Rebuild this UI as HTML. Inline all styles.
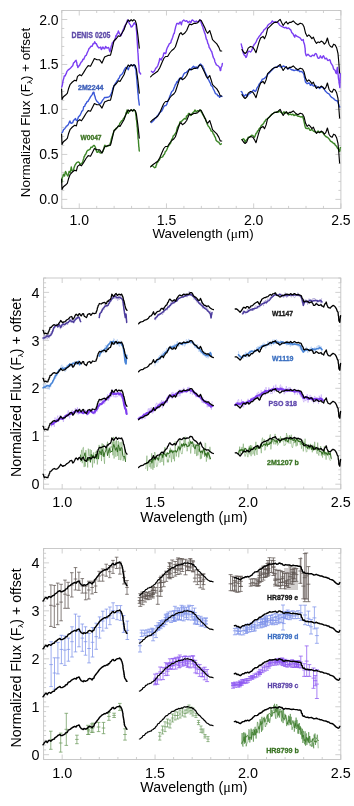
<!DOCTYPE html><html><head><meta charset="utf-8"><style>html,body{margin:0;padding:0;background:#fff;width:354px;height:806px;overflow:hidden}svg{display:block;will-change:transform}</style></head><body>
<svg width="354" height="806" viewBox="0 0 354 806" font-family='"Liberation Sans", sans-serif'>
<path d="M61.80 208.4v-2.5M61.80 10.5v2.5M79.24 208.4v-5M79.24 10.5v5M96.69 208.4v-2.5M96.69 10.5v2.5M114.13 208.4v-2.5M114.13 10.5v2.5M131.57 208.4v-2.5M131.57 10.5v2.5M149.02 208.4v-2.5M149.02 10.5v2.5M166.46 208.4v-5M166.46 10.5v5M183.91 208.4v-2.5M183.91 10.5v2.5M201.35 208.4v-2.5M201.35 10.5v2.5M218.79 208.4v-2.5M218.79 10.5v2.5M236.24 208.4v-2.5M236.24 10.5v2.5M253.68 208.4v-5M253.68 10.5v5M271.12 208.4v-2.5M271.12 10.5v2.5M288.57 208.4v-2.5M288.57 10.5v2.5M306.01 208.4v-2.5M306.01 10.5v2.5M323.46 208.4v-2.5M323.46 10.5v2.5M340.90 208.4v-5M340.90 10.5v5M61.8 199.40h5.5M340.9 199.40h-5.5M61.8 190.41h2.5M340.9 190.41h-2.5M61.8 181.41h2.5M340.9 181.41h-2.5M61.8 172.42h2.5M340.9 172.42h-2.5M61.8 163.42h2.5M340.9 163.42h-2.5M61.8 154.43h5.5M340.9 154.43h-5.5M61.8 145.43h2.5M340.9 145.43h-2.5M61.8 136.44h2.5M340.9 136.44h-2.5M61.8 127.44h2.5M340.9 127.44h-2.5M61.8 118.45h2.5M340.9 118.45h-2.5M61.8 109.45h5.5M340.9 109.45h-5.5M61.8 100.45h2.5M340.9 100.45h-2.5M61.8 91.46h2.5M340.9 91.46h-2.5M61.8 82.46h2.5M340.9 82.46h-2.5M61.8 73.47h2.5M340.9 73.47h-2.5M61.8 64.47h5.5M340.9 64.47h-5.5M61.8 55.48h2.5M340.9 55.48h-2.5M61.8 46.48h2.5M340.9 46.48h-2.5M61.8 37.49h2.5M340.9 37.49h-2.5M61.8 28.49h2.5M340.9 28.49h-2.5M61.8 19.50h5.5M340.9 19.50h-5.5M61.8 10.50h2.5M340.9 10.50h-2.5" stroke="#c4c4c4" stroke-width="0.8" fill="none"/>
<rect x="61.8" y="10.5" width="279.10" height="197.90" fill="none" stroke="#c4c4c4" stroke-width="0.9"/>
<text x="58.60" y="204.42" font-size="14.0" text-anchor="end" fill="#000">0.0</text>
<text x="58.60" y="159.44" font-size="14.0" text-anchor="end" fill="#000">0.5</text>
<text x="58.60" y="114.46" font-size="14.0" text-anchor="end" fill="#000">1.0</text>
<text x="58.60" y="69.48" font-size="14.0" text-anchor="end" fill="#000">1.5</text>
<text x="58.60" y="24.51" font-size="14.0" text-anchor="end" fill="#000">2.0</text>
<text x="79.24" y="225.30" font-size="14.0" text-anchor="middle" fill="#000">1.0</text>
<text x="166.46" y="225.30" font-size="14.0" text-anchor="middle" fill="#000">1.5</text>
<text x="253.68" y="225.30" font-size="14.0" text-anchor="middle" fill="#000">2.0</text>
<text x="340.90" y="225.30" font-size="14.0" text-anchor="middle" fill="#000">2.5</text>
<text x="203.05" y="238.40" font-size="13.4" text-anchor="middle" fill="#000">Wavelength (<tspan font-family="Liberation Serif">&#956;</tspan>m)</text>
<text transform="translate(29.9,112.50) rotate(-90)" font-size="13.4" text-anchor="middle" fill="#000">Normalized Flux (F<tspan font-size="8" dy="2.5">&#955;</tspan><tspan dy="-2.5">) + offset</tspan></text>
<path d="M43.60 489.0v-2.5M43.60 278.0v2.5M62.17 489.0v-5M62.17 278.0v5M80.75 489.0v-2.5M80.75 278.0v2.5M99.32 489.0v-2.5M99.32 278.0v2.5M117.90 489.0v-2.5M117.90 278.0v2.5M136.47 489.0v-2.5M136.47 278.0v2.5M155.05 489.0v-5M155.05 278.0v5M173.62 489.0v-2.5M173.62 278.0v2.5M192.20 489.0v-2.5M192.20 278.0v2.5M210.77 489.0v-2.5M210.77 278.0v2.5M229.35 489.0v-2.5M229.35 278.0v2.5M247.92 489.0v-5M247.92 278.0v5M266.50 489.0v-2.5M266.50 278.0v2.5M285.08 489.0v-2.5M285.08 278.0v2.5M303.65 489.0v-2.5M303.65 278.0v2.5M322.23 489.0v-2.5M322.23 278.0v2.5M340.80 489.0v-5M340.80 278.0v5M43.6 484.20h5.5M340.8 484.20h-5.5M43.6 479.41h2.5M340.8 479.41h-2.5M43.6 474.61h2.5M340.8 474.61h-2.5M43.6 469.82h2.5M340.8 469.82h-2.5M43.6 465.02h2.5M340.8 465.02h-2.5M43.6 460.23h2.5M340.8 460.23h-2.5M43.6 455.43h2.5M340.8 455.43h-2.5M43.6 450.64h2.5M340.8 450.64h-2.5M43.6 445.84h2.5M340.8 445.84h-2.5M43.6 441.05h2.5M340.8 441.05h-2.5M43.6 436.25h5.5M340.8 436.25h-5.5M43.6 431.45h2.5M340.8 431.45h-2.5M43.6 426.66h2.5M340.8 426.66h-2.5M43.6 421.86h2.5M340.8 421.86h-2.5M43.6 417.07h2.5M340.8 417.07h-2.5M43.6 412.27h2.5M340.8 412.27h-2.5M43.6 407.48h2.5M340.8 407.48h-2.5M43.6 402.68h2.5M340.8 402.68h-2.5M43.6 397.89h2.5M340.8 397.89h-2.5M43.6 393.09h2.5M340.8 393.09h-2.5M43.6 388.30h5.5M340.8 388.30h-5.5M43.6 383.50h2.5M340.8 383.50h-2.5M43.6 378.70h2.5M340.8 378.70h-2.5M43.6 373.91h2.5M340.8 373.91h-2.5M43.6 369.11h2.5M340.8 369.11h-2.5M43.6 364.32h2.5M340.8 364.32h-2.5M43.6 359.52h2.5M340.8 359.52h-2.5M43.6 354.73h2.5M340.8 354.73h-2.5M43.6 349.93h2.5M340.8 349.93h-2.5M43.6 345.14h2.5M340.8 345.14h-2.5M43.6 340.34h5.5M340.8 340.34h-5.5M43.6 335.55h2.5M340.8 335.55h-2.5M43.6 330.75h2.5M340.8 330.75h-2.5M43.6 325.95h2.5M340.8 325.95h-2.5M43.6 321.16h2.5M340.8 321.16h-2.5M43.6 316.36h2.5M340.8 316.36h-2.5M43.6 311.57h2.5M340.8 311.57h-2.5M43.6 306.77h2.5M340.8 306.77h-2.5M43.6 301.98h2.5M340.8 301.98h-2.5M43.6 297.18h2.5M340.8 297.18h-2.5M43.6 292.39h5.5M340.8 292.39h-5.5M43.6 287.59h2.5M340.8 287.59h-2.5M43.6 282.80h2.5M340.8 282.80h-2.5M43.6 278.00h2.5M340.8 278.00h-2.5" stroke="#c4c4c4" stroke-width="0.8" fill="none"/>
<rect x="43.6" y="278.0" width="297.20" height="211.00" fill="none" stroke="#c4c4c4" stroke-width="0.9"/>
<text x="39.60" y="489.36" font-size="14.4" text-anchor="end" fill="#000">0</text>
<text x="39.60" y="441.41" font-size="14.4" text-anchor="end" fill="#000">1</text>
<text x="39.60" y="393.45" font-size="14.4" text-anchor="end" fill="#000">2</text>
<text x="39.60" y="345.50" font-size="14.4" text-anchor="end" fill="#000">3</text>
<text x="39.60" y="297.54" font-size="14.4" text-anchor="end" fill="#000">4</text>
<text x="62.17" y="507.00" font-size="14.4" text-anchor="middle" fill="#000">1.0</text>
<text x="155.05" y="507.00" font-size="14.4" text-anchor="middle" fill="#000">1.5</text>
<text x="247.92" y="507.00" font-size="14.4" text-anchor="middle" fill="#000">2.0</text>
<text x="340.80" y="507.00" font-size="14.4" text-anchor="middle" fill="#000">2.5</text>
<text x="193.90" y="521.80" font-size="14.2" text-anchor="middle" fill="#000">Wavelength (<tspan font-family="Liberation Serif">&#956;</tspan>m)</text>
<text transform="translate(20.9,387.40) rotate(-90)" font-size="14.2" text-anchor="middle" fill="#000">Normalized Flux (F<tspan font-size="8" dy="2.5">&#955;</tspan><tspan dy="-2.5">) + offset</tspan></text>
<path d="M43.60 759.5v-2.5M43.60 548.5v2.5M62.17 759.5v-5M62.17 548.5v5M80.75 759.5v-2.5M80.75 548.5v2.5M99.32 759.5v-2.5M99.32 548.5v2.5M117.90 759.5v-2.5M117.90 548.5v2.5M136.47 759.5v-2.5M136.47 548.5v2.5M155.05 759.5v-5M155.05 548.5v5M173.62 759.5v-2.5M173.62 548.5v2.5M192.20 759.5v-2.5M192.20 548.5v2.5M210.77 759.5v-2.5M210.77 548.5v2.5M229.35 759.5v-2.5M229.35 548.5v2.5M247.92 759.5v-5M247.92 548.5v5M266.50 759.5v-2.5M266.50 548.5v2.5M285.08 759.5v-2.5M285.08 548.5v2.5M303.65 759.5v-2.5M303.65 548.5v2.5M322.23 759.5v-2.5M322.23 548.5v2.5M340.80 759.5v-5M340.80 548.5v5M43.6 754.70h5.5M340.8 754.70h-5.5M43.6 749.91h2.5M340.8 749.91h-2.5M43.6 745.11h2.5M340.8 745.11h-2.5M43.6 740.32h2.5M340.8 740.32h-2.5M43.6 735.52h2.5M340.8 735.52h-2.5M43.6 730.73h2.5M340.8 730.73h-2.5M43.6 725.93h2.5M340.8 725.93h-2.5M43.6 721.14h2.5M340.8 721.14h-2.5M43.6 716.34h2.5M340.8 716.34h-2.5M43.6 711.55h2.5M340.8 711.55h-2.5M43.6 706.75h5.5M340.8 706.75h-5.5M43.6 701.95h2.5M340.8 701.95h-2.5M43.6 697.16h2.5M340.8 697.16h-2.5M43.6 692.36h2.5M340.8 692.36h-2.5M43.6 687.57h2.5M340.8 687.57h-2.5M43.6 682.77h2.5M340.8 682.77h-2.5M43.6 677.98h2.5M340.8 677.98h-2.5M43.6 673.18h2.5M340.8 673.18h-2.5M43.6 668.39h2.5M340.8 668.39h-2.5M43.6 663.59h2.5M340.8 663.59h-2.5M43.6 658.80h5.5M340.8 658.80h-5.5M43.6 654.00h2.5M340.8 654.00h-2.5M43.6 649.20h2.5M340.8 649.20h-2.5M43.6 644.41h2.5M340.8 644.41h-2.5M43.6 639.61h2.5M340.8 639.61h-2.5M43.6 634.82h2.5M340.8 634.82h-2.5M43.6 630.02h2.5M340.8 630.02h-2.5M43.6 625.23h2.5M340.8 625.23h-2.5M43.6 620.43h2.5M340.8 620.43h-2.5M43.6 615.64h2.5M340.8 615.64h-2.5M43.6 610.84h5.5M340.8 610.84h-5.5M43.6 606.05h2.5M340.8 606.05h-2.5M43.6 601.25h2.5M340.8 601.25h-2.5M43.6 596.45h2.5M340.8 596.45h-2.5M43.6 591.66h2.5M340.8 591.66h-2.5M43.6 586.86h2.5M340.8 586.86h-2.5M43.6 582.07h2.5M340.8 582.07h-2.5M43.6 577.27h2.5M340.8 577.27h-2.5M43.6 572.48h2.5M340.8 572.48h-2.5M43.6 567.68h2.5M340.8 567.68h-2.5M43.6 562.89h5.5M340.8 562.89h-5.5M43.6 558.09h2.5M340.8 558.09h-2.5M43.6 553.30h2.5M340.8 553.30h-2.5M43.6 548.50h2.5M340.8 548.50h-2.5" stroke="#c4c4c4" stroke-width="0.8" fill="none"/>
<rect x="43.6" y="548.5" width="297.20" height="211.00" fill="none" stroke="#c4c4c4" stroke-width="0.9"/>
<text x="39.60" y="759.86" font-size="14.4" text-anchor="end" fill="#000">0</text>
<text x="39.60" y="711.91" font-size="14.4" text-anchor="end" fill="#000">1</text>
<text x="39.60" y="663.95" font-size="14.4" text-anchor="end" fill="#000">2</text>
<text x="39.60" y="616.00" font-size="14.4" text-anchor="end" fill="#000">3</text>
<text x="39.60" y="568.04" font-size="14.4" text-anchor="end" fill="#000">4</text>
<text x="62.17" y="777.50" font-size="14.4" text-anchor="middle" fill="#000">1.0</text>
<text x="155.05" y="777.50" font-size="14.4" text-anchor="middle" fill="#000">1.5</text>
<text x="247.92" y="777.50" font-size="14.4" text-anchor="middle" fill="#000">2.0</text>
<text x="340.80" y="777.50" font-size="14.4" text-anchor="middle" fill="#000">2.5</text>
<text x="193.90" y="792.30" font-size="14.2" text-anchor="middle" fill="#000">Wavelength (<tspan font-family="Liberation Serif">&#956;</tspan>m)</text>
<text transform="translate(20.9,657.90) rotate(-90)" font-size="14.2" text-anchor="middle" fill="#000">Normalized Flux (F<tspan font-size="8" dy="2.5">&#955;</tspan><tspan dy="-2.5">) + offset</tspan></text>
<polyline points="61.7,87.1 62.0,86.2 62.4,85.0 62.7,82.7 63.1,80.5 63.4,79.5 63.8,78.3 64.2,76.0 65.1,76.1 65.7,74.4 66.2,73.8 66.8,71.7 68.0,70.1 69.3,69.2 70.6,68.0 71.9,66.6 72.7,65.8 73.6,62.8 74.4,62.4 75.2,61.0 76.1,60.3 76.4,61.5 76.8,62.8 77.1,65.5 77.5,65.2 77.8,67.5 78.7,66.3 79.5,65.4 80.3,63.7 81.2,62.1 82.0,61.5 82.9,59.3 83.7,59.5 84.6,57.3 85.4,55.6 86.3,55.3 87.1,53.0 87.8,51.5 88.4,50.2 89.0,48.6 89.7,48.0 91.0,46.3 92.2,46.3 93.0,43.8 93.9,43.8 94.7,41.7 95.6,43.5 96.4,43.7 97.3,46.0 98.1,47.0 99.0,48.0 100.7,47.1 101.1,49.1 101.4,49.5 102.1,48.4 102.8,47.0 103.5,47.9 104.2,48.8 104.9,48.5 105.6,46.4 106.3,47.4 107.1,48.1 108.5,47.5 109.0,48.3 109.4,50.4 109.9,51.7 110.2,51.0 110.6,49.4 111.0,47.5 111.3,46.0 111.8,45.3 112.2,43.2 112.7,42.5 114.1,41.1 114.6,40.3 115.0,38.9 115.5,37.5 116.0,35.5 116.5,36.1 117.0,34.0 117.7,33.1 118.4,30.9 119.1,33.0 119.8,34.0 121.2,35.4 121.7,33.5 122.1,33.2 122.6,31.2 123.3,29.5 124.0,28.4 124.5,26.3 124.9,26.8 125.4,24.8 126.1,23.8 126.8,22.0 127.5,19.9 128.2,20.8 129.0,22.7 129.7,24.1 130.4,24.9 131.1,27.0 132.1,26.7 133.2,24.8 133.9,23.4 134.6,22.7 135.3,24.4 136.0,24.8 136.1,26.1 136.2,27.9 136.3,28.8 136.4,29.8 136.6,31.3 136.7,33.1 136.8,35.0 136.9,35.9 137.0,38.2 137.1,39.7 137.2,40.8 137.3,42.5 137.4,44.3 137.5,45.7 137.6,47.6 137.7,49.4 137.8,50.9 137.9,52.4 138.0,52.9 138.1,54.7 138.2,56.1 138.3,58.5 138.4,60.0 138.5,61.5 138.6,62.7 138.7,64.3 138.9,65.3 139.0,67.2 139.1,69.2 139.2,71.2 139.3,72.0 140.0,73.0 140.7,74.0" fill="none" stroke="#7b3ff2" stroke-width="1.4" stroke-linejoin="round" stroke-linecap="round"/>
<polyline points="151.4,71.2 152.8,72.6 154.2,71.2 154.9,70.1 155.6,68.4 157.0,66.9 157.7,65.8 158.4,64.1 158.8,62.2 159.1,61.9 159.5,59.6 159.8,58.5 161.2,59.9 161.9,58.2 162.7,57.1 163.2,56.1 163.6,53.9 164.1,52.8 165.5,53.5 166.0,52.8 166.4,50.3 166.9,48.8 167.6,47.1 168.3,46.0 169.4,43.6 170.4,43.2 170.9,42.5 171.3,40.3 171.8,39.7 172.3,38.2 172.7,37.2 173.2,35.4 173.7,33.9 174.2,33.5 174.7,31.2 175.0,29.6 175.4,28.1 175.8,26.1 176.1,25.5 176.8,23.5 177.5,23.4 178.9,24.1 179.6,22.3 180.3,22.0 180.9,23.5 181.4,24.8 181.9,22.3 182.4,21.3 183.8,19.9 185.3,21.3 186.7,20.6 187.4,21.6 188.1,22.7 189.5,21.3 190.9,22.7 191.6,20.6 192.3,19.9 193.7,21.0 195.0,22.0 196.3,21.0 197.7,22.0 198.4,22.0 199.1,21.5 199.8,19.9 200.5,20.4 201.2,22.7 201.7,24.4 202.2,25.9 202.7,26.2 203.2,28.8 203.6,29.5 204.1,31.2 204.6,33.2 205.0,33.3 205.5,35.4 206.0,37.8 206.4,39.2 206.9,39.7 207.4,41.5 207.8,43.4 208.3,43.9 208.8,45.5 209.2,47.6 209.7,48.1 210.4,49.3 211.1,51.0 211.6,51.3 212.0,52.7 212.5,54.5 213.0,56.6 213.5,57.9 214.0,58.5 214.5,59.7 214.9,61.7 215.4,62.7 216.4,64.9 217.5,65.5 218.6,66.3 219.6,67.7 219.9,68.6 220.3,70.5 220.7,70.3 221.0,67.8 221.4,66.9 221.9,66.0 222.4,63.4" fill="none" stroke="#7b3ff2" stroke-width="1.4" stroke-linejoin="round" stroke-linecap="round"/>
<polyline points="241.2,43.9 241.6,45.6 242.0,47.3 242.3,47.9 242.5,49.6 242.8,51.2 243.3,53.1 243.8,54.2 244.3,55.1 245.1,55.6 245.9,57.4 246.4,56.9 246.9,55.5 247.4,53.5 248.2,51.4 249.0,51.2 250.5,52.0 251.3,51.1 252.1,49.6 252.6,48.1 253.1,46.2 253.6,45.7 254.4,44.2 255.2,43.4 256.0,42.1 256.8,40.3 257.6,38.4 258.3,38.0 259.1,36.4 259.9,35.6 260.6,34.8 261.4,33.3 263.0,31.8 263.8,30.1 264.5,29.4 266.1,27.9 266.9,27.4 267.6,25.5 269.2,24.0 270.7,23.2 271.5,22.2 272.3,20.9 273.8,22.4 275.4,21.7 277.0,22.4 278.5,23.2 279.3,24.6 280.1,25.5 281.6,26.3 283.2,27.1 284.7,27.9 285.9,27.3 287.0,28.6 288.6,27.9 290.1,29.4 290.9,30.1 291.7,32.5 293.2,34.1 294.0,35.9 294.8,37.2 295.1,35.4 295.5,34.9 297.1,36.4 298.7,37.2 300.2,38.0 301.0,39.2 301.8,40.3 303.3,39.5 303.6,41.9 303.9,42.8 304.3,44.1 304.6,44.9 304.9,47.3 305.1,48.1 305.2,49.9 305.4,52.9 305.6,53.5 306.0,55.2 306.4,55.8 308.0,54.3 309.5,55.8 311.1,56.6 312.6,55.1 314.2,55.8 314.9,54.0 315.7,53.5 316.5,54.1 317.3,56.6 318.1,58.3 318.9,58.2 319.6,57.9 320.4,55.8 321.2,57.1 322.0,58.2 322.8,56.5 323.5,55.8 324.3,57.4 325.1,58.9 326.6,58.2 327.4,60.1 328.2,60.5 329.7,59.7 330.2,60.5 330.8,62.9 331.3,63.6 332.1,64.8 332.8,66.0 333.2,67.6 333.6,69.0 335.2,70.5 335.8,72.9 336.4,73.6 336.7,71.1 336.9,70.1 337.2,68.1 337.5,67.4 337.6,68.3 337.8,71.3 337.9,71.2 338.0,74.6 338.2,74.9 338.3,76.8 338.5,78.6 338.7,79.9 338.9,80.7 339.1,83.0 339.3,84.0 339.6,85.5 339.8,87.6 339.9,85.7 339.9,83.5 340.0,83.1 340.0,80.9 340.1,80.2 340.1,78.4 340.2,77.4 340.2,76.1 340.3,73.6" fill="none" stroke="#7b3ff2" stroke-width="1.4" stroke-linejoin="round" stroke-linecap="round"/>
<polyline points="62.1,132.6 62.8,131.6 63.5,129.8 64.9,128.4 65.7,127.4 66.4,126.2 67.5,125.7 68.5,124.1 69.2,122.4 69.9,121.0 70.6,122.8 71.3,123.4 72.7,122.7 73.4,120.6 74.1,119.9 75.5,118.5 76.2,120.3 76.9,120.6 77.4,120.2 77.9,118.5 78.4,117.1 79.8,115.6 80.5,114.3 81.2,112.8 81.9,111.1 82.6,110.7 83.0,109.8 83.3,108.7 83.7,106.6 84.6,106.4 85.4,104.2 86.3,103.2 87.1,101.5 88.0,101.5 88.8,99.8 89.7,98.4 90.5,96.9 91.4,95.6 92.2,94.6 93.1,92.5 93.9,92.2 94.2,94.1 94.6,95.6 94.9,96.1 95.3,97.7 95.6,99.0 96.4,100.5 97.3,101.8 98.1,102.4 99.3,103.7 100.5,103.5 101.5,102.3 102.4,100.5 103.5,99.1 104.5,97.5 106.0,97.5 107.5,97.3 108.8,96.8 110.0,96.2 110.7,94.6 111.3,93.6 112.0,91.7 112.5,89.9 112.9,88.0 113.4,87.5 114.1,85.5 114.8,84.7 115.5,83.0 116.2,82.5 117.0,80.8 117.7,80.4 118.4,78.8 119.1,78.3 119.8,76.4 120.5,75.1 121.2,74.8 122.2,73.9 123.3,72.0 124.0,70.4 124.7,69.1 125.8,67.4 126.8,67.7 127.5,68.3 128.2,69.8 128.7,68.7 129.2,66.7 129.7,66.3 131.1,64.9 133.2,65.6 134.6,64.9 134.9,67.1 135.3,68.3 135.7,68.4 136.0,70.5 136.1,71.0 136.2,74.0 136.4,75.2 136.5,75.5 136.6,77.3 136.8,79.1 136.9,79.6 137.0,81.8 137.1,83.4 137.3,84.8 137.4,86.6 137.6,88.9 137.7,89.9 137.8,92.2 138.0,93.1 138.1,94.5 138.3,95.4 138.4,98.1 138.6,99.6 138.8,101.0 139.0,102.5 139.1,103.3 139.3,105.0" fill="none" stroke="#3a57d8" stroke-width="1.4" stroke-linejoin="round" stroke-linecap="round"/>
<polyline points="151.4,122.6 152.8,121.2 154.2,119.8 155.2,118.0 156.3,117.7 157.4,115.5 158.4,114.8 159.4,112.9 160.5,112.0 161.6,111.1 162.7,109.2 163.4,107.4 164.1,106.4 164.8,105.6 165.9,105.6 166.9,104.2 167.4,102.1 167.8,101.5 168.3,100.0 169.0,99.0 169.7,96.4 170.4,95.2 171.1,93.0 171.8,91.5 172.5,91.0 173.2,90.2 174.0,88.1 174.7,86.5 175.4,84.5 176.1,83.9 176.8,81.8 177.5,82.3 178.2,80.4 178.9,79.8 179.6,78.2 181.0,79.0 181.7,78.9 182.4,76.8 183.1,75.6 183.8,74.0 185.3,72.6 186.4,72.5 187.4,71.2 188.4,70.3 189.5,69.1 190.6,69.8 191.3,68.5 192.1,67.7 193.5,66.2 194.9,67.7 196.3,66.9 197.7,68.4 198.4,66.1 199.1,65.5 200.5,64.1 201.9,65.5 202.7,66.1 203.4,68.4 203.9,68.7 204.3,70.3 204.8,71.9 205.5,73.1 206.2,74.7 206.7,75.4 207.1,77.1 207.6,78.2 208.3,79.3 209.0,80.4 209.7,82.2 210.4,83.2 211.1,85.6 211.8,86.0 212.5,86.6 213.2,88.8 213.9,90.0 214.7,91.7 215.4,93.5 216.1,93.8 216.9,94.1 217.8,95.9 218.7,95.6 219.6,97.3 221.0,95.9 222.0,96.5" fill="none" stroke="#3a57d8" stroke-width="1.4" stroke-linejoin="round" stroke-linecap="round"/>
<polyline points="241.2,91.5 242.0,92.1 242.8,94.6 244.3,96.2 245.1,95.3 245.9,94.6 247.4,96.2 248.2,94.7 249.0,93.8 250.5,93.1 251.3,92.1 252.1,91.5 253.6,90.0 255.2,91.5 256.0,90.8 256.8,88.4 257.6,87.1 258.3,86.1 259.1,84.2 259.9,83.7 260.6,82.0 261.4,81.4 262.2,79.3 263.0,79.1 264.5,78.3 266.1,76.8 266.9,76.1 267.6,74.4 269.2,72.9 270.7,71.3 272.3,69.8 273.8,68.2 275.4,67.4 277.0,66.7 278.5,65.9 280.1,66.7 281.6,67.4 283.2,65.9 284.7,66.7 286.3,67.4 287.8,69.0 289.3,68.2 290.5,69.0 291.7,69.8 292.9,70.0 294.0,70.5 295.1,70.2 296.3,69.8 297.5,70.6 298.7,70.5 299.9,71.7 301.0,71.3 302.5,72.1 303.3,73.2 304.1,75.2 304.4,77.3 304.7,77.2 305.0,80.1 305.3,81.1 305.6,82.2 307.2,83.7 308.8,83.0 309.6,83.2 310.3,85.3 311.9,84.5 313.4,86.1 315.0,85.3 315.8,85.6 316.5,87.6 318.1,86.9 319.6,88.4 321.2,86.9 322.7,87.6 323.5,87.8 324.3,89.2 325.1,90.8 325.8,91.5 326.6,92.2 327.4,93.1 329.0,93.8 329.8,95.0 330.5,96.2 332.1,97.7 333.6,98.5 334.4,99.5 335.2,100.1 336.7,100.8 337.5,101.0 338.3,103.2 338.8,105.1 339.3,106.4 339.8,107.0" fill="none" stroke="#3a57d8" stroke-width="1.4" stroke-linejoin="round" stroke-linecap="round"/>
<polyline points="61.7,182.2 61.9,181.7 62.1,178.3 62.3,177.7 62.8,176.7 63.4,174.3 64.5,176.0 64.9,174.3 65.2,172.3 65.6,171.5 66.2,172.8 66.8,174.3 67.9,176.0 68.3,175.0 68.6,173.8 69.0,171.5 70.2,172.6 70.5,170.7 70.8,169.6 71.0,168.6 71.3,167.0 71.7,169.3 72.0,170.6 72.4,170.9 73.6,169.8 74.0,167.8 74.4,166.9 74.9,165.4 75.3,164.7 76.2,163.3 77.0,162.4 78.6,161.9 79.4,162.7 80.3,164.7 81.2,163.8 82.0,163.0 82.6,162.4 83.1,160.4 83.7,158.5 84.2,156.5 84.6,156.4 85.1,154.7 85.9,153.9 86.8,151.4 87.6,150.5 89.3,149.7 90.2,149.1 91.0,147.1 92.3,147.2 93.6,145.4 94.4,145.5 95.3,147.1 95.7,148.2 96.1,150.3 96.5,151.3 96.9,152.2 97.8,152.3 98.6,150.5 99.4,152.1 100.3,153.1 101.6,152.7 102.9,151.4 103.4,149.6 103.9,148.8 104.4,146.0 104.9,145.2 106.4,146.6 108.5,145.9 109.9,145.2 110.2,143.0 110.6,143.3 111.0,140.8 111.3,138.8 111.7,138.2 112.0,136.7 112.5,135.5 113.0,133.9 113.6,132.3 114.1,130.4 115.2,129.5 116.2,128.2 117.3,127.7 118.4,126.1 119.1,125.9 119.8,123.3 120.5,122.6 121.5,120.9 122.6,120.5 123.3,118.7 124.0,118.1 124.7,117.0 125.2,116.1 125.6,115.0 126.1,112.7 126.6,112.0 127.1,109.9 127.6,111.9 128.2,113.4 129.1,111.5 129.9,110.6 131.4,109.9 132.8,111.0 133.9,109.6 135.3,111.3 135.5,111.9 135.7,113.4 135.9,115.6 136.1,116.3 136.3,119.4 136.5,120.0 136.7,121.2 136.8,122.3 137.0,125.2 137.1,126.6 137.2,126.7 137.4,128.8 137.5,131.5 137.6,132.1 137.8,134.1 137.9,135.3 138.0,137.0 138.1,138.9 138.2,139.4 138.4,140.0 138.5,142.2 138.6,143.8 138.7,144.8 138.8,146.6 139.0,147.5 139.1,149.3 139.3,151.0" fill="none" stroke="#3b8526" stroke-width="1.4" stroke-linejoin="round" stroke-linecap="round"/>
<polyline points="151.2,166.2 152.3,165.6 153.5,166.7 154.6,167.7 155.7,167.3 156.1,165.3 156.5,164.9 156.9,162.8 157.8,162.2 158.6,160.5 159.4,160.1 160.3,157.7 162.0,157.1 162.8,156.6 163.6,154.9 164.2,154.5 164.7,153.6 165.3,151.5 166.2,151.0 167.0,149.2 167.6,147.7 168.1,146.6 168.7,145.8 169.6,144.0 170.4,143.6 171.0,141.9 171.5,139.9 172.1,139.0 172.7,138.2 173.2,135.9 173.8,135.6 174.7,134.3 175.5,133.4 175.9,132.7 176.4,131.4 176.8,129.7 177.5,127.3 178.2,126.0 178.9,125.4 179.4,123.9 179.8,122.2 180.3,121.9 181.7,121.2 183.1,119.8 184.5,118.4 186.0,119.1 186.2,117.8 186.4,116.2 187.8,115.5 188.5,113.5 189.2,113.4 189.9,114.6 190.6,115.5 191.3,115.1 192.1,113.4 193.5,112.0 194.2,111.6 194.9,109.9 195.6,110.9 196.3,112.0 197.7,110.6 199.1,111.3 200.5,109.9 201.2,111.8 201.9,112.7 202.7,114.6 203.4,115.5 204.1,117.0 204.8,118.4 205.5,118.9 206.2,121.2 206.7,122.4 207.1,123.8 207.6,124.7 208.3,126.3 209.0,126.8 209.7,128.2 210.4,129.0 211.1,131.0 211.8,131.1 212.5,131.8 213.2,133.9 213.9,134.4 214.7,136.7 215.2,137.0 215.6,138.4 216.1,140.3 217.5,141.7 218.9,142.4 219.6,143.6 220.3,144.5 221.4,143.8" fill="none" stroke="#3b8526" stroke-width="1.4" stroke-linejoin="round" stroke-linecap="round"/>
<polyline points="242.0,139.6 243.5,138.8 244.3,139.6 245.1,142.0 245.9,140.6 246.7,139.6 247.4,139.2 248.2,137.3 249.3,137.1 250.5,136.5 251.7,135.1 252.9,135.7 254.4,137.3 254.9,136.5 255.5,134.8 256.0,133.4 256.8,133.0 257.5,131.1 258.3,130.5 259.1,128.7 260.6,127.2 261.4,125.4 262.2,124.9 263.7,123.3 264.5,121.4 265.3,121.0 266.1,119.3 266.9,119.4 268.4,117.9 269.2,117.2 270.0,116.3 271.1,115.0 272.3,114.0 273.5,113.3 274.6,112.4 275.8,112.1 277.0,111.7 278.1,112.2 279.3,110.9 280.8,112.4 281.6,112.7 282.4,114.0 283.1,113.3 283.9,111.7 285.5,113.2 287.1,112.4 287.9,113.5 288.6,114.8 290.1,114.0 291.7,114.8 292.9,114.2 294.0,115.5 295.1,115.0 296.3,114.8 297.5,116.1 298.7,116.3 299.9,116.6 301.0,117.1 302.5,116.3 302.9,117.6 303.3,118.3 303.7,120.2 304.1,121.8 304.5,123.7 304.9,125.8 305.2,126.8 305.6,128.0 307.2,128.7 308.8,128.0 309.6,129.9 310.3,130.3 311.9,129.5 313.4,131.1 315.0,131.9 316.5,132.6 318.1,131.1 319.6,132.6 321.2,131.9 322.7,132.6 323.5,133.5 324.3,135.0 325.8,136.5 327.4,137.3 329.0,138.8 329.8,140.0 330.5,141.2 332.1,142.0 333.6,143.5 334.4,143.4 335.2,145.1 336.7,146.6 337.5,148.3 338.3,149.0 339.0,150.5 339.6,151.5 339.9,150.8 340.1,148.2 340.4,147.7" fill="none" stroke="#3b8526" stroke-width="1.4" stroke-linejoin="round" stroke-linecap="round"/>
<polyline points="61.6,89.0 62.0,99.5 63.4,96.7 65.6,95.0 67.3,93.3 68.5,88.8 70.2,84.3 72.4,82.0 74.7,80.3 76.4,80.9 77.5,76.4 79.8,74.7 81.5,75.8 83.7,72.4 86.0,68.5 88.2,65.6 90.5,66.2 92.8,61.7 94.4,58.5 96.9,59.7 99.5,59.7 102.0,63.1 104.6,57.1 108.0,55.4 110.5,55.2 112.2,48.6 113.9,41.0 116.4,38.5 118.4,35.8 120.0,36.5 121.9,33.3 124.0,29.8 125.4,25.5 126.8,22.7 128.2,19.9 129.7,21.3 131.1,19.6 132.5,21.0 133.9,19.6 135.3,20.6 136.4,24.1 137.9,35.4 139.3,48.1" fill="none" stroke="#000" stroke-width="1.15" stroke-linejoin="round" stroke-linecap="round"/>
<polyline points="150.6,76.8 152.8,74.7 154.9,73.3 157.7,71.2 159.8,67.7 161.9,62.7 163.8,58.5 165.5,56.5 167.6,56.5 169.7,53.0 171.8,50.5 174.0,48.8 175.4,46.7 176.8,42.5 178.2,38.2 179.6,34.0 181.0,32.6 182.4,34.7 184.5,33.3 186.7,30.5 188.1,27.0 189.5,24.1 191.6,24.8 193.7,23.4 195.6,23.4 197.7,22.7 199.8,19.9 201.2,20.6 202.7,23.4 204.8,27.7 206.2,31.2 207.6,33.3 209.7,30.5 211.1,34.7 212.5,39.7 214.7,41.8 216.8,43.9 218.9,47.4 220.3,51.0 221.7,51.0" fill="none" stroke="#000" stroke-width="1.15" stroke-linejoin="round" stroke-linecap="round"/>
<polyline points="242.0,49.6 243.5,52.0 245.1,53.5 246.7,52.0 248.2,48.1 250.5,46.5 252.9,47.3 254.4,49.6 256.0,52.7 257.5,47.3 259.1,41.9 260.6,38.0 263.0,36.4 264.5,38.7 266.1,34.9 267.6,28.6 270.0,26.3 272.3,24.0 274.6,22.4 277.0,22.4 278.5,20.9 280.1,19.3 281.6,22.4 283.2,25.5 284.7,23.2 286.3,21.7 287.8,24.0 289.4,22.4 290.9,22.4 293.2,20.9 295.5,23.2 297.9,24.8 300.2,23.2 302.5,24.0 304.1,27.1 305.6,33.3 307.2,36.4 308.8,34.9 310.3,36.4 311.9,38.7 313.4,37.2 315.0,41.1 316.5,43.4 318.1,41.9 319.6,42.6 321.2,41.1 322.7,41.9 324.3,44.2 325.8,42.6 327.4,38.0 329.0,44.2 330.5,46.5 332.1,47.3 333.6,44.2 335.2,45.0 336.7,48.1 338.0,53.5 338.7,61.3 339.6,73.0" fill="none" stroke="#000" stroke-width="1.15" stroke-linejoin="round" stroke-linecap="round"/>
<polyline points="61.6,134.0 62.0,144.5 63.4,141.7 65.6,140.0 67.3,138.3 68.5,133.8 70.2,129.3 72.4,127.0 74.7,125.3 76.4,125.9 77.5,121.4 79.8,119.7 81.5,120.8 83.7,117.4 86.0,113.5 88.2,110.6 90.5,111.2 92.8,106.7 94.4,103.5 96.9,104.7 99.5,104.7 102.0,108.1 104.6,102.1 108.0,100.4 110.5,100.2 112.2,93.6 113.9,86.0 116.4,83.5 118.4,80.8 120.0,81.5 121.9,78.3 124.0,74.8 125.4,70.5 126.8,67.7 128.2,64.9 129.7,66.3 131.1,64.6 132.5,66.0 133.9,64.6 135.3,65.6 136.4,69.1 137.9,80.4 139.3,93.1" fill="none" stroke="#000" stroke-width="1.15" stroke-linejoin="round" stroke-linecap="round"/>
<polyline points="150.6,121.8 152.8,119.7 154.9,118.3 157.7,116.2 159.8,112.7 161.9,107.7 163.8,103.5 165.5,101.5 167.6,101.5 169.7,98.0 171.8,95.5 174.0,93.8 175.4,91.7 176.8,87.5 178.2,83.2 179.6,79.0 181.0,77.6 182.4,79.7 184.5,78.3 186.7,75.5 188.1,72.0 189.5,69.1 191.6,69.8 193.7,68.4 195.6,68.4 197.7,67.7 199.8,64.9 201.2,65.6 202.7,68.4 204.8,72.7 206.2,76.2 207.6,78.3 209.7,75.5 211.1,79.7 212.5,84.7 214.7,86.8 216.8,88.9 218.9,92.4 220.3,96.0 221.7,96.0" fill="none" stroke="#000" stroke-width="1.15" stroke-linejoin="round" stroke-linecap="round"/>
<polyline points="242.0,94.6 243.5,97.0 245.1,98.5 246.7,97.0 248.2,93.1 250.5,91.5 252.9,92.3 254.4,94.6 256.0,97.7 257.5,92.3 259.1,86.9 260.6,83.0 263.0,81.4 264.5,83.7 266.1,79.9 267.6,73.6 270.0,71.3 272.3,69.0 274.6,67.4 277.0,67.4 278.5,65.9 280.1,64.3 281.6,67.4 283.2,70.5 284.7,68.2 286.3,66.7 287.8,69.0 289.4,67.4 290.9,67.4 293.2,65.9 295.5,68.2 297.9,69.8 300.2,68.2 302.5,69.0 304.1,72.1 305.6,78.3 307.2,81.4 308.8,79.9 310.3,81.4 311.9,83.7 313.4,82.2 315.0,86.1 316.5,88.4 318.1,86.9 319.6,87.6 321.2,86.1 322.7,86.9 324.3,89.2 325.8,87.6 327.4,83.0 329.0,89.2 330.5,91.5 332.1,92.3 333.6,89.2 335.2,90.0 336.7,93.1 338.0,98.5 338.7,106.3 339.6,118.0" fill="none" stroke="#000" stroke-width="1.15" stroke-linejoin="round" stroke-linecap="round"/>
<polyline points="61.6,179.0 62.0,189.5 63.4,186.7 65.6,185.0 67.3,183.3 68.5,178.8 70.2,174.3 72.4,172.0 74.7,170.3 76.4,170.9 77.5,166.4 79.8,164.7 81.5,165.8 83.7,162.4 86.0,158.5 88.2,155.6 90.5,156.2 92.8,151.7 94.4,148.5 96.9,149.7 99.5,149.7 102.0,153.1 104.6,147.1 108.0,145.4 110.5,145.2 112.2,138.6 113.9,131.0 116.4,128.5 118.4,125.8 120.0,126.5 121.9,123.3 124.0,119.8 125.4,115.5 126.8,112.7 128.2,109.9 129.7,111.3 131.1,109.6 132.5,111.0 133.9,109.6 135.3,110.6 136.4,114.1 137.9,125.4 139.3,138.1" fill="none" stroke="#000" stroke-width="1.15" stroke-linejoin="round" stroke-linecap="round"/>
<polyline points="150.6,166.8 152.8,164.7 154.9,163.3 157.7,161.2 159.8,157.7 161.9,152.7 163.8,148.5 165.5,146.5 167.6,146.5 169.7,143.0 171.8,140.5 174.0,138.8 175.4,136.7 176.8,132.5 178.2,128.2 179.6,124.0 181.0,122.6 182.4,124.7 184.5,123.3 186.7,120.5 188.1,117.0 189.5,114.1 191.6,114.8 193.7,113.4 195.6,113.4 197.7,112.7 199.8,109.9 201.2,110.6 202.7,113.4 204.8,117.7 206.2,121.2 207.6,123.3 209.7,120.5 211.1,124.7 212.5,129.7 214.7,131.8 216.8,133.9 218.9,137.4 220.3,141.0 221.7,141.0" fill="none" stroke="#000" stroke-width="1.15" stroke-linejoin="round" stroke-linecap="round"/>
<polyline points="242.0,139.6 243.5,142.0 245.1,143.5 246.7,142.0 248.2,138.1 250.5,136.5 252.9,137.3 254.4,139.6 256.0,142.7 257.5,137.3 259.1,131.9 260.6,128.0 263.0,126.4 264.5,128.7 266.1,124.9 267.6,118.6 270.0,116.3 272.3,114.0 274.6,112.4 277.0,112.4 278.5,110.9 280.1,109.3 281.6,112.4 283.2,115.5 284.7,113.2 286.3,111.7 287.8,114.0 289.4,112.4 290.9,112.4 293.2,110.9 295.5,113.2 297.9,114.8 300.2,113.2 302.5,114.0 304.1,117.1 305.6,123.3 307.2,126.4 308.8,124.9 310.3,126.4 311.9,128.7 313.4,127.2 315.0,131.1 316.5,133.4 318.1,131.9 319.6,132.6 321.2,131.1 322.7,131.9 324.3,134.2 325.8,132.6 327.4,128.0 329.0,134.2 330.5,136.5 332.1,137.3 333.6,134.2 335.2,135.0 336.7,138.1 338.0,143.5 338.7,151.3 339.6,163.0" fill="none" stroke="#000" stroke-width="1.15" stroke-linejoin="round" stroke-linecap="round"/>
<polyline points="43.0,339.8 43.7,339.6 44.4,335.2 45.1,339.4 45.8,338.3 46.5,335.3 47.2,339.2 47.9,333.9 48.6,337.8 49.3,338.3 50.0,333.8 50.7,335.0 51.4,331.2 52.1,334.5 52.8,330.7 53.5,331.3 54.2,326.2 54.9,325.3 55.6,327.1 56.3,323.7 57.0,326.5 57.7,327.9 58.4,324.4 59.1,322.9 59.8,328.4 60.5,328.8 61.2,328.3 61.9,327.4 62.6,324.0 63.3,326.9 64.0,325.5 64.7,323.8 65.4,324.7 66.1,324.9 66.8,321.1 67.5,325.0 68.2,323.1 68.9,321.4 69.6,321.5 70.3,320.4 71.0,322.6 71.7,318.6 72.4,320.7 73.1,319.1 73.8,323.4 74.5,322.1 75.2,321.0 75.9,317.3 76.6,319.9 77.3,316.5 78.0,318.6 78.7,317.3 79.4,318.5 80.1,320.3" fill="none" stroke="#9d92cc" stroke-width="0.7" stroke-linejoin="round" stroke-linecap="round" opacity="0.8"/>
<polyline points="43.0,338.1 44.0,338.0 45.1,337.4 45.8,337.1 46.5,336.0 47.5,336.0 48.6,336.7 49.3,335.7 50.1,335.7 50.8,335.3 51.3,334.0 51.7,333.4 52.2,332.5 52.5,331.9 52.8,330.4 53.0,330.3 53.3,329.1 53.6,328.2 54.1,327.5 54.5,327.4 55.0,326.1 55.7,325.8 56.4,325.4 57.1,325.7 57.8,326.8 58.3,326.1 58.7,325.7 59.2,324.7 59.7,325.5 60.2,326.1 60.7,327.5 61.2,326.6 61.6,325.7 62.1,324.7 62.8,324.1 63.5,324.0 64.2,324.6 64.9,324.7 65.6,323.6 66.3,323.3 67.0,323.0 67.7,322.6 68.4,322.4 69.1,321.2 69.5,321.1 70.0,319.9 70.5,320.8 71.1,321.0 71.9,321.8 72.7,321.5 73.4,322.1 74.0,321.6 74.5,320.3 75.1,319.9 75.9,319.0 76.8,318.2 77.7,317.8 78.5,317.0 79.0,317.3 79.6,318.7 80.0,320.1 80.3,321.1 80.7,321.6" fill="none" stroke="#4d3d9e" stroke-width="1.5" stroke-linejoin="round" stroke-linecap="round"/>
<polyline points="99.2,316.2 99.9,316.4 100.6,311.4 101.3,311.5 102.0,308.8 102.7,309.6 103.4,308.1 104.1,309.5 104.8,303.7 105.5,304.2 106.2,306.2 106.9,307.2 107.6,306.1 108.3,304.5 109.0,302.1 109.7,300.7 110.4,299.7 111.1,301.5 111.8,296.1 112.5,295.9 113.2,298.6 113.9,297.9 114.6,298.7 115.3,299.1 116.0,294.1 116.7,297.3 117.4,300.4 118.1,300.3 118.8,296.8 119.5,299.6 120.2,297.9 120.9,295.1 121.6,298.7 122.3,299.8 123.0,303.7 123.7,308.5 124.4,311.8 125.1,316.0 125.8,315.3 126.5,320.6" fill="none" stroke="#9d92cc" stroke-width="0.7" stroke-linejoin="round" stroke-linecap="round" opacity="0.8"/>
<polyline points="99.2,317.6 99.4,316.4 99.6,315.0 99.7,314.2 99.9,313.6 100.5,313.0 101.1,312.5 101.5,312.0 101.9,310.7 102.4,310.0 102.8,309.1 103.4,308.0 103.9,307.6 104.5,306.9 105.3,306.1 106.2,305.7 107.6,305.5 108.1,305.2 108.5,304.0 109.0,303.4 109.5,302.8 109.9,301.5 110.4,301.2 110.9,300.2 111.3,299.7 111.8,299.1 112.5,298.5 113.2,297.7 114.0,297.0 114.7,296.3 115.4,296.1 116.1,297.0 116.8,297.8 117.5,297.7 118.2,297.7 118.9,297.0 119.6,297.4 120.3,297.7 121.0,298.3 121.7,298.4 122.3,299.5 122.9,300.5 123.0,301.1 123.2,302.8 123.3,303.1 123.4,305.1 123.5,305.3 123.7,307.0 123.8,307.6 123.9,309.1 124.0,309.0 124.2,310.7 124.3,310.8 124.4,312.2 124.5,313.2 124.7,314.0 124.9,315.0 125.1,316.4 125.3,317.5 125.5,317.0 125.7,315.7 125.8,314.3 126.0,314.0 126.1,314.6 126.2,315.7 126.3,316.7 126.3,317.8 126.4,318.9 126.5,320.3 126.6,321.1 126.7,322.4" fill="none" stroke="#4d3d9e" stroke-width="1.5" stroke-linejoin="round" stroke-linecap="round"/>
<polyline points="154.9,317.5 155.6,320.2 156.3,317.5 157.0,316.0 157.7,314.0 158.4,313.7 159.1,315.1 159.8,313.7 160.5,313.5 161.2,313.0 161.9,313.8 162.6,314.8 163.3,311.7 164.0,312.7 164.7,307.5 165.4,310.1 166.1,309.5 166.8,310.3 167.5,309.8 168.2,306.5 168.9,307.5 169.6,307.4 170.3,306.1 171.0,302.0 171.7,300.6 172.4,304.3 173.1,300.9 173.8,303.1 174.5,301.3 175.2,299.4 175.9,301.3 176.6,299.4 177.3,300.7 178.0,298.1 178.7,298.5 179.4,297.8 180.1,297.9 180.8,296.5 181.5,297.5 182.2,297.7 182.9,295.6 183.6,295.5 184.3,295.9 185.0,297.0 185.7,293.2 186.4,295.3 187.1,297.3 187.8,295.5 188.5,294.4 189.2,291.3 189.9,295.6 190.6,293.4 191.3,292.1 192.0,294.2 192.7,294.2 193.4,295.5 194.1,299.7 194.8,297.1 195.5,298.0 196.2,298.3 196.9,302.6 197.6,302.1 198.3,299.9 199.0,302.2 199.7,304.6 200.4,302.7 201.1,303.0 201.8,302.6 202.5,308.4 203.2,305.0 203.9,305.1 204.6,309.1 205.3,306.4 206.0,309.1 206.7,306.9 207.4,307.6 208.1,309.4 208.8,312.8 209.5,313.8 210.2,310.9 210.9,315.8 211.6,314.3" fill="none" stroke="#9d92cc" stroke-width="0.7" stroke-linejoin="round" stroke-linecap="round" opacity="0.8"/>
<polyline points="154.9,318.9 155.6,318.0 156.3,317.1 157.0,316.8 157.7,315.7 158.4,314.8 159.1,314.7 159.8,313.9 160.5,314.1 161.2,313.2 161.9,312.8 162.7,311.9 163.4,311.8 164.1,310.7 164.8,310.3 165.5,309.7 166.2,308.9 166.9,308.8 167.6,307.6 168.3,306.9 169.0,306.7 169.7,305.5 170.4,305.3 171.1,304.1 171.8,303.4 172.9,302.9 174.0,302.7 174.7,301.8 175.4,301.8 176.1,301.2 176.8,301.0 177.5,299.9 178.2,299.1 178.9,298.2 179.6,298.3 180.3,297.7 181.4,297.4 182.4,297.0 183.5,297.0 184.2,296.2 184.9,296.3 185.6,295.5 186.6,295.7 187.7,294.8 188.8,294.9 189.8,294.1 190.9,295.0 191.9,294.8 192.6,296.0 193.4,296.8 194.1,297.0 194.6,297.7 195.1,298.1 195.7,299.1 196.2,299.8 196.9,300.3 197.6,300.8 198.3,301.9 199.0,303.1 199.7,303.8 200.4,304.0 201.1,305.0 201.8,305.7 202.5,306.1 203.2,306.8 204.0,307.9 204.7,308.2 205.4,308.8 206.1,309.2 206.8,309.7 207.5,310.9 208.2,311.2 208.9,311.8 209.4,312.7 209.8,313.0 210.3,313.9 210.5,314.9 210.7,315.8 210.8,316.5 211.0,318.0 211.2,317.4 211.3,316.3 211.5,314.8 211.7,314.7 211.8,313.7 212.0,312.5" fill="none" stroke="#4d3d9e" stroke-width="1.5" stroke-linejoin="round" stroke-linecap="round"/>
<polyline points="242.5,313.0 243.2,310.7 243.9,312.3 244.6,312.0 245.3,314.0 246.0,313.6 246.7,313.0 247.4,309.1 248.1,311.2 248.8,310.2 249.5,308.0 250.2,307.7 250.9,307.1 251.6,308.9 252.3,308.0 253.0,310.9 253.7,310.1 254.4,309.7 255.1,306.1 255.8,305.4 256.5,306.3 257.2,307.1 257.9,308.4 258.6,306.0 259.3,306.9 260.0,307.5 260.7,305.6 261.4,305.4 262.1,304.8 262.8,303.5 263.5,306.1 264.2,300.9 264.9,302.9 265.6,300.1 266.3,304.1 267.0,300.5 267.7,298.6 268.4,300.2 269.1,299.0 269.8,299.0 270.5,296.9 271.2,297.4 271.9,295.6 272.6,295.5 273.3,297.0 274.0,295.0 274.7,295.4 275.4,294.4 276.1,293.0 276.8,295.0 277.5,296.2 278.2,295.2 278.9,295.3 279.6,293.9 280.3,294.7 281.0,293.8 281.7,295.4 282.4,294.4 283.1,297.5 283.8,297.7 284.5,295.4 285.2,292.6 285.9,294.5 286.6,297.8 287.3,297.1 288.0,296.0 288.7,295.8 289.4,295.2 290.1,294.6 290.8,296.6 291.5,297.3 292.2,293.7 292.9,296.2 293.6,296.5 294.3,297.7 295.0,297.5 295.7,295.8 296.4,295.1 297.1,296.2 297.8,292.6 298.5,295.2 299.2,295.2 299.9,294.8 300.6,297.7 301.3,297.6 302.0,302.3 302.7,303.7 303.4,304.1 304.1,302.8 304.8,299.7 305.5,299.8 306.2,300.2 306.9,299.9 307.6,304.7 308.3,301.1 309.0,298.6 309.7,299.7 310.4,301.3 311.1,300.8 311.8,303.1 312.5,299.0 313.2,298.0 313.9,299.5 314.6,298.0 315.3,299.5 316.0,300.9 316.7,303.8 317.4,300.3 318.1,302.4 318.8,300.9 319.5,299.6 320.2,299.6 320.9,303.5 321.6,298.6" fill="none" stroke="#9d92cc" stroke-width="0.7" stroke-linejoin="round" stroke-linecap="round" opacity="0.8"/>
<polyline points="242.5,313.8 243.0,313.5 243.6,312.5 244.1,311.4 244.9,311.9 245.7,312.2 246.5,312.2 247.3,312.1 248.1,311.4 248.9,310.6 249.7,310.4 250.5,309.5 251.3,309.8 252.1,310.0 253.0,308.7 253.8,309.0 254.6,308.4 255.4,308.2 256.2,308.2 257.0,307.8 257.8,306.6 258.6,306.6 259.4,306.0 260.2,305.3 261.0,305.0 261.8,304.1 262.6,303.6 263.4,303.3 264.2,303.3 265.0,302.4 265.8,302.5 266.6,302.5 267.5,301.2 268.3,300.9 269.1,300.6 269.9,299.6 270.7,298.5 271.5,297.3 272.3,297.1 273.1,296.1 273.9,295.4 274.7,294.9 275.5,294.5 276.3,295.3 277.1,295.0 277.9,295.3 278.7,295.3 279.5,294.3 280.3,294.5 281.1,295.3 282.0,295.8 282.8,296.1 283.9,295.5 285.0,295.3 286.0,295.4 287.1,295.8 288.1,295.3 288.9,294.9 289.8,295.2 290.6,294.8 291.5,295.0 292.3,295.1 293.2,295.3 294.0,295.1 294.9,295.1 295.7,294.9 296.6,294.8 297.4,294.9 298.3,295.3 299.1,295.6 300.0,295.8 300.8,296.1 301.1,296.6 301.5,297.9 301.8,298.8 302.2,299.9 302.5,301.2 302.7,302.5 302.9,302.7 303.1,304.4 303.3,305.4 303.6,304.5 304.0,303.6 304.3,302.4 304.7,301.7 305.0,301.2 305.9,302.0 306.7,301.5 307.6,302.0 308.4,301.9 309.3,300.6 310.1,300.3 311.0,300.3 311.8,301.2 312.7,301.2 313.5,300.7 314.4,300.8 315.2,300.3 316.0,300.4 316.9,300.4 317.7,301.2 318.6,301.0 319.4,301.0 320.3,300.3 321.1,300.9 322.0,302.0" fill="none" stroke="#4d3d9e" stroke-width="1.5" stroke-linejoin="round" stroke-linecap="round"/>
<polyline points="43.0,384.6 43.7,384.9 44.4,386.4 45.1,383.9 45.8,388.6 46.5,384.7 47.2,386.0 47.9,389.2 48.6,386.8 49.3,389.5 50.0,384.0 50.7,387.2 51.4,383.3 52.1,383.0 52.8,380.9 53.5,379.2 54.2,379.1 54.9,376.8 55.6,378.8 56.3,375.7 57.0,376.2 57.7,372.1 58.4,373.3 59.1,369.9 59.8,371.6 60.5,368.6 61.2,365.7 61.9,364.7 62.6,369.5 63.3,366.4 64.0,367.2 64.7,371.6 65.4,371.5 66.1,370.4 66.8,365.0 67.5,365.0 68.2,366.0 68.9,365.7 69.6,365.4 70.3,366.8 71.0,365.4 71.7,366.6 72.4,364.0 73.1,362.6 73.8,363.4 74.5,361.2 75.2,364.3 75.9,363.9 76.6,364.2 77.3,362.8 78.0,361.3 78.7,360.2 79.4,365.8 80.1,363.1" fill="none" stroke="#9fc0ee" stroke-width="0.7" stroke-linejoin="round" stroke-linecap="round" opacity="0.8"/>
<polyline points="43.0,387.8 44.0,387.0 45.1,387.1 45.8,386.6 46.5,386.0 47.2,385.6 48.3,385.6 49.4,386.4 49.9,386.0 50.3,385.1 50.8,384.2 51.5,383.3 52.2,382.8 52.7,381.9 53.1,380.7 53.6,380.0 54.0,378.9 54.3,378.2 54.6,377.4 55.0,376.6 55.5,375.4 56.0,375.5 56.6,374.1 57.1,373.8 57.6,373.0 58.0,371.5 58.5,371.0 59.2,369.8 60.0,369.5 60.7,369.4 61.4,368.6 62.1,368.1 63.2,368.6 64.2,368.8 65.2,367.9 66.3,368.1 67.0,367.3 67.7,366.3 68.4,366.0 68.9,364.8 69.3,365.1 69.8,363.9 70.5,364.6 71.2,364.6 71.9,364.6 72.7,363.3 73.4,363.2 74.5,363.4 75.5,363.9 76.2,363.6 76.9,362.6 77.6,361.8 78.1,362.1 78.7,362.7 79.2,363.9 79.7,364.6 80.1,363.9 80.5,363.0" fill="none" stroke="#4a86d8" stroke-width="1.6" stroke-linejoin="round" stroke-linecap="round"/>
<polyline points="99.1,355.5 99.8,356.9 100.5,352.5 101.2,349.4 101.9,353.0 102.6,350.8 103.3,352.4 104.0,352.6 104.7,350.2 105.4,345.4 106.1,345.4 106.8,347.3 107.5,347.4 108.2,348.2 108.9,343.7 109.6,342.8 110.3,340.6 111.0,343.5 111.7,343.3 112.4,345.1 113.1,344.1 113.8,338.5 114.5,339.9 115.2,340.4 115.9,342.5 116.6,345.1 117.3,339.4 118.0,344.4 118.7,344.9 119.4,346.6 120.1,342.9 120.8,340.7 121.5,345.6 122.2,343.2 122.9,345.8 123.6,348.0 124.3,354.6 125.0,359.9 125.7,361.8 126.4,360.1" fill="none" stroke="#9fc0ee" stroke-width="0.7" stroke-linejoin="round" stroke-linecap="round" opacity="0.8"/>
<polyline points="99.1,356.1 99.6,355.2 100.0,353.8 100.5,353.3 101.0,352.3 101.4,351.6 101.9,351.2 102.6,350.6 103.4,350.2 104.1,349.8 104.8,349.2 105.5,348.4 106.2,348.4 106.7,347.8 107.1,346.2 107.6,345.5 108.3,344.7 109.0,344.1 109.5,343.7 109.9,343.2 110.4,342.0 111.1,341.8 111.8,342.7 112.5,342.2 113.2,341.3 114.0,341.7 114.7,342.7 115.4,342.5 116.1,342.0 116.8,342.2 117.5,342.7 118.2,342.6 118.9,343.4 119.6,342.9 120.3,342.7 121.0,343.3 121.7,344.1 122.2,345.5 122.6,345.9 123.1,347.0 123.3,347.4 123.4,348.6 123.6,349.9 123.8,351.6 124.0,352.6 124.1,353.5 124.3,354.0 124.4,354.5 124.5,356.0 124.6,356.8 124.7,358.5 124.8,359.5 124.9,360.5 125.0,361.1 125.3,362.6 125.7,363.2 126.0,363.9 126.1,363.5 126.2,361.4 126.2,361.0 126.3,359.6 126.4,359.1 126.5,358.5 126.5,357.1 126.6,355.8 126.7,355.4" fill="none" stroke="#4a86d8" stroke-width="1.6" stroke-linejoin="round" stroke-linecap="round"/>
<polyline points="154.9,365.9 155.6,361.7 156.3,361.7 157.0,362.7 157.7,362.8 158.4,362.3 159.1,356.1 159.8,355.3 160.5,359.7 161.2,353.7 161.9,357.2 162.6,352.5 163.3,351.5 164.0,350.7 164.7,351.0 165.4,351.8 166.1,350.9 166.8,348.0 167.5,350.1 168.2,352.0 168.9,348.6 169.6,347.7 170.3,345.7 171.0,345.8 171.7,350.2 172.4,345.5 173.1,345.5 173.8,348.2 174.5,343.8 175.2,345.8 175.9,346.8 176.6,343.7 177.3,341.3 178.0,345.6 178.7,346.9 179.4,345.4 180.1,344.8 180.8,344.6 181.5,342.2 182.2,345.8 182.9,345.5 183.6,341.3 184.3,346.2 185.0,346.2 185.7,341.5 186.4,339.4 187.1,340.7 187.8,344.2 188.5,339.0 189.2,339.3 189.9,341.2 190.6,343.7 191.3,341.2 192.0,343.6 192.7,342.6 193.4,344.7 194.1,344.9 194.8,347.8 195.5,346.5 196.2,347.8 196.9,345.7 197.6,344.4 198.3,348.4 199.0,352.0 199.7,350.4 200.4,349.1 201.1,353.6 201.8,352.7 202.5,353.4 203.2,355.5 203.9,350.8 204.6,354.8 205.3,357.0 206.0,356.8 206.7,358.0 207.4,353.2 208.1,358.4 208.8,357.3 209.5,353.0 210.2,355.6 210.9,353.1" fill="none" stroke="#9fc0ee" stroke-width="0.7" stroke-linejoin="round" stroke-linecap="round" opacity="0.8"/>
<polyline points="154.9,362.5 155.6,361.4 156.3,361.6 157.0,360.4 157.7,359.5 158.4,359.3 159.1,358.2 159.8,357.8 160.5,357.5 161.2,356.8 161.9,356.4 162.7,355.8 163.4,354.7 164.1,353.7 164.8,352.8 165.5,352.6 166.2,351.6 166.9,351.5 167.6,350.5 168.1,350.2 168.6,349.0 169.2,347.9 169.7,347.7 170.8,347.2 171.8,347.0 172.9,347.2 174.0,346.2 175.0,346.2 175.7,345.7 176.4,344.7 177.1,344.8 177.8,344.8 178.5,343.5 179.2,343.4 180.3,343.5 181.4,344.1 182.1,344.2 182.8,343.3 183.5,342.7 184.6,343.3 185.6,343.4 186.3,342.9 187.0,342.3 187.7,342.0 188.8,341.6 189.8,341.2 190.9,341.7 191.9,342.0 192.6,342.2 193.4,342.9 194.1,344.1 194.8,345.2 195.5,345.7 196.2,346.2 196.9,346.9 197.6,348.1 198.3,348.3 199.0,348.6 199.7,349.2 200.4,350.4 201.1,351.4 201.8,352.1 202.5,352.5 203.2,353.4 204.0,354.1 204.7,354.7 205.8,355.4 206.8,355.4 207.9,355.6 208.9,355.4 209.4,354.2 209.8,353.8 210.3,352.5 210.6,353.1 210.9,353.9 211.1,354.8 211.4,356.1" fill="none" stroke="#4a86d8" stroke-width="1.6" stroke-linejoin="round" stroke-linecap="round"/>
<polyline points="238.5,351.6 239.2,358.6 239.9,358.3 240.6,358.8 241.3,357.7 242.0,357.6 242.7,356.7 243.4,358.8 244.1,354.1 244.8,356.7 245.5,352.2 246.2,352.3 246.9,357.8 247.6,356.8 248.3,351.8 249.0,354.2 249.7,350.7 250.4,353.8 251.1,353.8 251.8,352.2 252.5,354.5 253.2,351.9 253.9,351.4 254.6,349.1 255.3,352.0 256.0,351.4 256.7,347.2 257.4,350.4 258.1,346.2 258.8,351.4 259.5,346.1 260.2,345.4 260.9,346.4 261.6,346.8 262.3,346.0 263.0,343.4 263.7,342.7 264.4,343.4 265.1,347.7 265.8,348.3 266.5,345.3 267.2,346.0 267.9,340.9 268.6,344.7 269.3,345.6 270.0,341.6 270.7,344.1 271.4,346.2 272.1,341.6 272.8,339.7 273.5,344.7 274.2,339.6 274.9,344.1 275.6,342.9 276.3,339.2 277.0,340.0 277.7,341.7 278.4,341.2 279.1,345.5 279.8,345.9 280.5,340.4 281.2,341.3 281.9,343.5 282.6,344.6 283.3,341.0 284.0,342.1 284.7,342.0 285.4,343.5 286.1,344.5 286.8,345.5 287.5,340.8 288.2,341.4 288.9,342.4 289.6,343.3 290.3,346.7 291.0,341.0 291.7,346.0 292.4,345.1 293.1,343.0 293.8,345.3 294.5,342.8 295.2,342.6 295.9,345.3 296.6,344.8 297.3,343.7 298.0,346.6 298.7,346.6 299.4,347.1 300.1,348.5 300.8,350.0 301.5,345.0 302.2,349.8 302.9,352.3 303.6,351.3 304.3,350.8 305.0,349.0 305.7,351.2 306.4,346.8 307.1,349.2 307.8,352.9 308.5,349.8 309.2,349.6 309.9,348.7 310.6,348.1 311.3,346.7 312.0,351.2 312.7,349.2 313.4,352.0 314.1,350.7 314.8,347.3 315.5,352.5 316.2,348.0 316.9,346.4 317.6,347.6 318.3,345.1 319.0,348.8 319.7,345.4 320.4,348.1 321.1,346.2 321.8,351.3" fill="none" stroke="#9fc0ee" stroke-width="0.7" stroke-linejoin="round" stroke-linecap="round" opacity="0.8"/>
<polyline points="238.5,354.8 239.3,355.6 240.1,356.3 240.9,357.2 241.7,357.5 242.5,356.6 243.3,356.4 244.1,355.3 244.9,355.9 245.7,354.8 246.5,354.4 247.3,354.6 248.1,354.0 248.9,353.0 249.7,352.3 250.5,351.6 251.8,351.1 253.0,351.6 253.8,351.9 254.6,350.8 255.4,350.8 256.2,350.8 257.0,349.9 257.8,349.2 258.6,349.1 259.4,347.7 260.2,347.5 261.0,347.2 261.8,346.0 262.6,345.9 263.4,345.3 264.2,345.8 265.0,345.1 265.8,345.2 266.7,344.9 267.5,344.3 268.3,344.0 269.1,343.8 269.9,343.5 270.7,343.2 271.5,342.5 272.3,342.7 273.1,342.9 273.9,342.7 274.7,341.9 275.9,342.0 277.1,341.9 277.9,342.2 278.7,342.2 279.5,342.7 280.3,342.5 281.1,342.1 281.9,341.9 282.7,342.0 283.6,342.6 284.4,342.7 285.5,343.3 286.6,343.5 287.6,343.7 288.7,344.0 289.8,343.6 290.8,344.0 291.7,343.3 292.7,344.5 293.7,344.2 294.7,343.9 295.6,344.2 296.6,344.5 297.7,344.8 298.9,344.9 300.0,345.3 300.4,346.5 300.8,346.7 301.2,348.2 301.6,348.7 302.0,349.9 302.5,351.0 302.9,350.8 303.3,352.1 304.1,351.2 305.0,350.4 305.9,350.2 306.7,349.7 307.6,349.6 308.4,350.1 309.3,349.6 310.1,350.4 311.0,349.5 311.8,349.2 312.7,348.7 313.5,349.6 314.4,349.2 315.2,349.6 316.0,349.1 316.9,348.8 317.7,348.7 318.6,348.8 319.4,347.6 320.3,347.9 321.1,348.6 322.0,349.6" fill="none" stroke="#4a86d8" stroke-width="1.6" stroke-linejoin="round" stroke-linecap="round"/>
<polyline points="51.5,426.9 52.2,423.7 52.9,424.3 53.6,421.1 54.3,426.8 55.0,417.5 55.7,422.6 56.4,420.3 57.1,417.8 57.8,415.6 58.5,421.9 59.2,418.7 59.9,415.2 60.6,415.8 61.3,415.7 62.0,419.3 62.7,417.0 63.4,421.9 64.1,417.8 64.8,415.6 65.5,414.7 66.2,414.7 66.9,414.8 67.6,412.8 68.3,410.4 69.0,414.1 69.7,418.4 70.4,411.7 71.1,414.9 71.8,410.4 72.5,410.2 73.2,415.2 73.9,413.4 74.6,413.6 75.3,408.1 76.0,413.3 76.7,413.3 77.4,407.3 78.1,414.7 78.8,410.0 79.5,408.0 80.2,410.7 80.9,412.4 81.6,412.0 82.3,413.7 83.0,409.5 83.7,413.1 84.4,412.4 85.1,409.8 85.8,411.0 86.5,412.3 87.2,415.4 87.9,409.2 88.6,411.6 89.3,413.6 90.0,409.3 90.7,409.8 91.4,408.3 92.1,409.2 92.8,413.6 93.5,414.3 94.2,410.3 94.9,414.2 95.6,411.7 96.3,410.2 97.0,411.8 97.7,407.8 98.4,408.4 99.1,402.3 99.8,401.3 100.5,400.7 101.2,402.2 101.9,403.8 102.6,399.5 103.3,402.6 104.0,404.0 104.7,403.5 105.4,400.6 106.1,397.9 106.8,400.4 107.5,394.3 108.2,401.0 108.9,398.3 109.6,399.1 110.3,393.9 111.0,393.8 111.7,396.9 112.4,389.5 113.1,394.6 113.8,397.2 114.5,397.0 115.2,396.0 115.9,397.5 116.6,395.9 117.3,396.8 118.0,396.4 118.7,393.5 119.4,392.6 120.1,396.6 120.8,396.3 121.5,394.4 122.2,393.7 122.9,395.0 123.6,400.7 124.3,406.9 125.0,408.7 125.7,408.9 126.4,414.0" fill="none" stroke="#bb9cf6" stroke-width="0.7" stroke-linejoin="round" stroke-linecap="round" opacity="0.8"/>
<polyline points="51.5,424.5 52.2,423.8 52.9,423.9 53.6,422.8 54.3,422.4 55.0,422.1 55.7,421.7 56.4,421.0 57.1,420.1 57.8,420.5 58.5,419.5 59.2,419.3 60.0,418.1 61.0,418.5 62.1,418.8 62.8,418.8 63.5,418.2 64.2,417.4 64.9,416.9 65.6,416.0 66.3,416.0 67.0,415.2 67.7,415.5 68.4,414.6 69.5,413.8 70.5,413.9 71.6,413.0 72.7,413.2 73.4,413.1 74.1,412.0 74.8,411.8 75.5,411.6 76.2,410.7 76.9,410.4 77.6,411.3 78.3,411.7 79.0,412.5 80.0,412.3 81.1,411.8 81.8,412.1 82.6,413.0 83.3,413.2 84.0,412.4 84.7,412.6 85.4,411.8 86.1,412.1 86.8,413.0 87.5,413.9 88.2,412.9 88.9,411.9 89.6,411.1 90.7,411.0 91.7,411.8 92.5,412.4 93.4,412.8 94.2,412.5 94.7,412.1 95.2,410.7 95.8,410.3 96.3,409.7 96.8,409.2 97.3,408.4 97.9,406.5 98.4,406.1 99.1,405.5 99.8,404.3 100.5,404.0 101.2,404.1 102.0,403.6 102.7,402.6 103.4,401.8 104.1,401.4 104.8,400.5 105.5,399.8 106.2,398.9 106.9,398.4 107.6,398.5 108.3,397.4 109.0,397.0 109.5,395.9 109.9,395.7 110.4,394.1 111.1,392.9 111.8,392.7 112.5,392.8 113.2,394.1 114.0,394.0 114.7,393.4 115.4,394.1 116.1,394.1 116.8,393.5 117.5,393.4 118.2,393.2 118.9,394.1 119.6,394.3 120.3,393.4 121.0,394.4 121.7,394.8 122.0,395.5 122.4,396.9 122.8,398.1 123.1,398.4 123.3,399.2 123.4,400.6 123.6,401.3 123.8,402.0 123.9,403.0 124.1,404.0 124.3,405.3 124.5,405.7 124.8,406.8 125.0,408.2 125.5,409.0 126.0,409.7 126.2,411.0 126.3,412.1 126.5,413.4 126.7,413.9" fill="none" stroke="#7f3ff0" stroke-width="2.2" stroke-linejoin="round" stroke-linecap="round"/>
<polyline points="138.6,418.9 139.3,416.6 140.0,418.5 140.7,416.4 141.4,416.3 142.1,419.5 142.8,418.5 143.5,413.7 144.2,415.5 144.9,418.8 145.6,415.0 146.3,412.0 147.0,414.1 147.7,410.3 148.4,408.4 149.1,414.0 149.8,408.3 150.5,411.4 151.2,407.2 151.9,409.7 152.6,413.5 153.3,412.6 154.0,409.5 154.7,410.3 155.4,405.4 156.1,403.5 156.8,402.9 157.5,408.3 158.2,403.5 158.9,408.6 159.6,404.0 160.3,401.8 161.0,404.7 161.7,400.0 162.4,408.2 163.1,401.2 163.8,400.7 164.5,404.8 165.2,401.3 165.9,401.8 166.6,398.9 167.3,403.1 168.0,395.9 168.7,398.6 169.4,394.1 170.1,396.6 170.8,395.4 171.5,392.7 172.2,399.1 172.9,391.9 173.6,396.7 174.3,396.6 175.0,395.4 175.7,393.6 176.4,393.4 177.1,394.2 177.8,396.8 178.5,393.7 179.2,389.5 179.9,396.2 180.6,389.8 181.3,389.8 182.0,393.8 182.7,390.9 183.4,387.9 184.1,388.1 184.8,390.5 185.5,391.7 186.2,391.6 186.9,392.1 187.6,387.3 188.3,389.2 189.0,386.8 189.7,389.7 190.4,394.0 191.1,389.3 191.8,392.1 192.5,394.8 193.2,392.6 193.9,390.9 194.6,391.4 195.3,394.1 196.0,397.3 196.7,392.8 197.4,396.7 198.1,396.1 198.8,397.8 199.5,396.9 200.2,395.7 200.9,396.7 201.6,401.4 202.3,403.0 203.0,397.5 203.7,403.3 204.4,401.1 205.1,402.9 205.8,400.1 206.5,400.0 207.2,407.3 207.9,402.2 208.6,406.9 209.3,403.2 210.0,404.6 210.7,406.2 211.4,409.6 212.1,401.7" fill="none" stroke="#bb9cf6" stroke-width="0.7" stroke-linejoin="round" stroke-linecap="round" opacity="0.8"/>
<polyline points="138.6,418.8 139.3,418.6 140.1,417.9 140.8,417.4 141.5,417.5 142.2,416.9 142.9,416.0 143.6,415.3 144.3,414.5 145.0,414.5 145.7,414.4 146.4,413.4 147.1,413.1 148.1,413.1 149.2,412.4 149.9,411.7 150.7,411.8 151.4,411.0 152.1,410.5 152.8,410.6 153.5,409.6 154.2,408.6 154.9,409.2 155.6,408.2 156.3,407.4 157.0,407.8 157.7,406.8 158.4,405.7 159.1,405.5 159.8,404.7 160.9,404.6 162.0,404.0 162.7,402.9 163.4,403.3 164.1,402.5 164.8,402.3 165.5,402.1 166.2,401.1 166.7,400.5 167.2,399.5 167.8,397.9 168.3,397.6 169.0,396.7 169.7,396.2 170.4,396.2 171.4,395.9 172.5,395.5 173.6,395.1 174.7,394.8 175.4,394.6 176.1,393.8 176.8,393.4 177.9,392.9 178.9,392.7 179.9,392.5 181.0,392.0 181.8,391.4 182.7,391.6 183.5,391.2 184.6,391.2 185.6,391.2 186.6,391.3 187.7,390.5 188.8,389.6 189.8,389.8 190.9,390.7 191.9,390.5 192.6,390.9 193.4,391.6 194.1,392.6 194.8,393.1 195.5,394.1 196.2,394.7 196.9,395.0 197.6,396.0 198.3,396.1 199.0,396.1 199.7,396.7 200.4,397.5 201.1,398.2 201.8,399.2 202.5,399.7 203.2,400.1 204.0,401.1 204.7,401.8 205.4,402.2 206.1,402.9 206.8,403.2 207.5,403.3 208.2,404.2 208.9,404.6 209.6,405.5 210.3,405.7 211.0,406.7 211.7,406.2 212.4,406.0" fill="none" stroke="#7f3ff0" stroke-width="2.2" stroke-linejoin="round" stroke-linecap="round"/>
<polyline points="235.2,405.3 235.9,403.2 236.6,401.9 237.3,403.2 238.0,399.7 238.7,399.5 239.4,405.6 240.1,407.6 240.8,403.7 241.5,399.5 242.2,407.1 242.9,403.1 243.6,407.4 244.3,403.9 245.0,403.6 245.7,404.7 246.4,401.5 247.1,401.9 247.8,398.9 248.5,399.2 249.2,404.0 249.9,402.4 250.6,398.6 251.3,401.9 252.0,397.4 252.7,397.1 253.4,399.0 254.1,401.1 254.8,399.0 255.5,398.1 256.2,396.7 256.9,393.2 257.6,393.8 258.3,391.8 259.0,393.1 259.7,396.1 260.4,397.9 261.1,390.3 261.8,391.0 262.5,396.1 263.2,393.9 263.9,392.2 264.6,389.3 265.3,395.2 266.0,387.1 266.7,393.3 267.4,392.5 268.1,392.5 268.8,387.4 269.5,389.4 270.2,392.8 270.9,394.0 271.6,393.4 272.3,393.8 273.0,389.2 273.7,385.7 274.4,392.3 275.1,389.4 275.8,384.6 276.5,390.0 277.2,387.2 277.9,389.4 278.6,388.5 279.3,390.1 280.0,385.3 280.7,384.7 281.4,392.4 282.1,386.6 282.8,391.7 283.5,388.8 284.2,394.3 284.9,388.6 285.6,392.6 286.3,386.0 287.0,392.1 287.7,388.1 288.4,391.2 289.1,387.1 289.8,392.0 290.5,387.6 291.2,391.2 291.9,391.7 292.6,391.3 293.3,390.0 294.0,389.6 294.7,394.7 295.4,390.4 296.1,389.0 296.8,390.7 297.5,394.8 298.2,390.4 298.9,390.4 299.6,395.0 300.3,394.5 301.0,397.2 301.7,394.4 302.4,392.6 303.1,400.2 303.8,402.2 304.5,399.9 305.2,399.5 305.9,401.1 306.6,395.8 307.3,394.2 308.0,402.6 308.7,399.2 309.4,395.8 310.1,395.0 310.8,395.4 311.5,400.9 312.2,401.3 312.9,399.0 313.6,403.4 314.3,396.4 315.0,396.1 315.7,402.1 316.4,401.7 317.1,397.3 317.8,398.6 318.5,403.9 319.2,395.7 319.9,397.4 320.6,399.3 321.3,394.5 322.0,400.5 322.7,398.4" fill="none" stroke="#bb9cf6" stroke-width="0.7" stroke-linejoin="round" stroke-linecap="round" opacity="0.8"/>
<polyline points="235.2,405.0 236.0,404.3 236.9,404.0 237.7,403.4 238.5,404.0 239.3,403.7 240.1,404.2 240.9,403.6 241.7,403.4 242.5,402.6 243.3,402.3 244.1,403.0 244.9,403.4 245.7,402.8 246.5,402.7 247.3,402.6 248.1,401.6 248.9,401.4 249.7,401.0 250.5,401.0 251.4,399.4 252.2,399.4 253.0,399.3 253.8,398.4 254.6,397.8 255.4,397.6 256.2,396.4 257.0,396.2 257.8,395.6 258.6,395.4 259.4,395.3 260.2,394.7 261.0,394.6 261.8,393.7 262.6,392.8 263.4,392.7 264.2,392.1 265.0,391.4 265.8,391.1 266.6,391.3 267.4,391.4 268.3,390.9 269.1,390.5 269.9,390.6 270.7,390.2 271.5,389.7 272.3,389.6 273.1,389.1 273.9,388.9 275.1,389.4 276.3,388.9 277.1,389.4 277.9,388.9 278.7,389.7 279.5,389.6 280.3,388.6 281.1,388.9 281.9,389.3 282.8,389.3 283.6,389.7 284.5,390.0 285.5,389.9 286.4,390.5 287.5,390.7 288.7,390.0 289.8,390.3 290.9,390.7 292.1,390.6 293.2,391.0 294.3,391.6 295.5,391.4 296.6,391.2 297.7,391.2 298.9,391.3 300.0,392.0 300.5,393.3 301.1,393.7 301.6,394.6 302.0,395.3 302.5,396.2 302.9,397.3 303.3,398.0 304.2,398.2 305.0,397.3 305.9,397.1 306.7,397.2 307.6,398.6 308.4,398.8 309.3,398.3 310.1,398.7 311.0,398.0 311.8,399.0 312.7,398.8 313.5,399.7 314.4,399.0 315.2,399.0 316.1,398.8 316.9,399.1 317.8,399.4 318.6,399.7 319.4,399.0 320.3,398.5 321.1,398.8 322.0,399.6 322.8,400.5" fill="none" stroke="#7f3ff0" stroke-width="2.2" stroke-linejoin="round" stroke-linecap="round"/>
<polyline points="80.5,461.6 81.1,454.9 81.7,449.8 82.3,463.2 82.9,447.7 83.5,447.3 84.1,467.1 84.7,459.3 85.3,466.5 85.9,450.1 86.5,457.0 87.1,457.2 87.7,467.5 88.3,448.6 88.9,455.9 89.5,455.9 90.1,449.2 90.7,458.1 91.3,450.0 91.9,455.2 92.5,467.5 93.1,455.6 93.7,452.4 94.3,463.3 94.9,457.7 95.5,452.0 96.1,452.2 96.7,450.5 97.3,464.5 97.9,457.9 98.5,455.4 99.1,444.9 99.7,453.6 100.3,452.9 100.9,446.1 101.5,461.1 102.1,443.3 102.7,456.2 103.3,444.2 103.9,457.5 104.5,463.8 105.1,449.2 105.7,447.9 106.3,447.0 106.9,446.3 107.5,441.7 108.1,453.2 108.7,450.8 109.3,458.0 109.9,446.8 110.5,451.2 111.1,446.3 111.7,447.5 112.3,441.6 112.9,455.3 113.5,436.9 114.1,458.5 114.7,441.6 115.3,441.2 115.9,456.8 116.5,440.3 117.1,448.1 117.7,456.1 118.3,440.8 118.9,460.0 119.5,447.5 120.1,442.2 120.7,460.2 121.3,457.2 121.9,441.7 122.5,449.4 123.1,460.8 123.7,458.0 124.3,458.8 124.9,448.4 125.5,460.5 126.1,453.9" fill="none" stroke="#5a9448" stroke-width="0.6" stroke-linejoin="round" stroke-linecap="round" opacity="0.75"/>
<polyline points="145.7,468.6 146.3,464.6 146.9,455.7 147.5,470.8 148.1,465.1 148.7,463.0 149.3,461.6 149.9,467.1 150.5,462.6 151.1,468.7 151.7,453.3 152.3,463.1 152.9,469.8 153.5,460.6 154.1,467.9 154.7,452.0 155.3,454.8 155.9,461.8 156.5,466.6 157.1,466.7 157.7,464.5 158.3,459.4 158.9,458.1 159.5,457.9 160.1,462.7 160.7,459.6 161.3,454.8 161.9,462.0 162.5,455.1 163.1,456.8 163.7,465.4 164.3,450.6 164.9,447.1 165.5,456.3 166.1,456.8 166.7,452.9 167.3,462.4 167.9,459.5 168.5,462.3 169.1,454.9 169.7,457.6 170.3,447.7 170.9,455.4 171.5,462.2 172.1,452.5 172.7,452.4 173.3,459.1 173.9,451.8 174.5,461.3 175.1,441.5 175.7,450.7 176.3,456.5 176.9,451.8 177.5,450.3 178.1,445.7 178.7,457.3 179.3,452.5 179.9,439.1 180.5,449.6 181.1,452.5 181.7,454.0 182.3,453.8 182.9,446.3 183.5,445.9 184.1,437.2 184.7,447.6 185.3,436.7 185.9,445.2 186.5,444.2 187.1,451.3 187.7,447.7 188.3,441.8 188.9,446.6 189.5,438.8 190.1,444.7 190.7,453.5 191.3,447.1 191.9,444.4 192.5,446.6 193.1,446.0 193.7,445.2 194.3,443.8 194.9,453.9 195.5,444.6 196.1,447.9 196.7,456.1 197.3,443.6 197.9,455.4 198.5,448.7 199.1,451.9 199.7,442.4 200.3,459.2 200.9,452.9 201.5,458.5 202.1,451.9 202.7,454.4 203.3,449.9 203.9,448.5 204.5,457.0 205.1,442.8 205.7,443.6 206.3,461.7 206.9,458.0 207.5,457.5 208.1,452.1 208.7,453.6 209.3,459.4 209.9,446.8 210.5,452.0" fill="none" stroke="#5a9448" stroke-width="0.6" stroke-linejoin="round" stroke-linecap="round" opacity="0.75"/>
<polyline points="238.5,451.7 239.1,452.2 239.7,446.6 240.3,454.1 240.9,451.0 241.5,448.6 242.1,446.9 242.7,453.1 243.3,443.7 243.9,452.6 244.5,454.0 245.1,456.5 245.7,454.3 246.3,453.1 246.9,450.4 247.5,456.8 248.1,457.1 248.7,449.6 249.3,445.8 249.9,454.4 250.5,445.1 251.1,456.2 251.7,445.5 252.3,448.0 252.9,454.4 253.5,452.5 254.1,449.1 254.7,455.7 255.3,448.3 255.9,441.8 256.5,452.6 257.1,454.9 257.7,447.4 258.3,446.5 258.9,445.9 259.5,446.9 260.1,449.0 260.7,445.9 261.3,453.2 261.9,439.7 262.5,437.7 263.1,442.5 263.7,441.0 264.3,439.0 264.9,450.4 265.5,448.8 266.1,442.4 266.7,440.8 267.3,447.0 267.9,438.9 268.5,444.5 269.1,443.4 269.7,436.0 270.3,434.4 270.9,449.4 271.5,442.5 272.1,439.1 272.7,442.3 273.3,441.2 273.9,444.4 274.5,437.2 275.1,433.9 275.7,444.4 276.3,439.9 276.9,441.2 277.5,445.5 278.1,444.8 278.7,443.1 279.3,442.7 279.9,441.8 280.5,436.3 281.1,441.0 281.7,438.3 282.3,441.3 282.9,439.8 283.5,440.8 284.1,445.7 284.7,444.9 285.3,445.1 285.9,443.3 286.5,433.1 287.1,436.4 287.7,435.7 288.3,443.3 288.9,438.7 289.5,435.2 290.1,443.8 290.7,439.3 291.3,434.7 291.9,446.8 292.5,447.8 293.1,445.3 293.7,441.4 294.3,443.1 294.9,442.2 295.5,441.7 296.1,446.4 296.7,438.3 297.3,445.6 297.9,439.0 298.5,442.1 299.1,438.8 299.7,442.5 300.3,445.1 300.9,441.3 301.5,448.7 302.1,442.5 302.7,439.9 303.3,451.4 303.9,441.5 304.5,446.1 305.1,438.7 305.7,449.1 306.3,452.2 306.9,451.6 307.5,445.5 308.1,448.7 308.7,449.2 309.3,449.6 309.9,446.3 310.5,443.8 311.1,445.5 311.7,446.2 312.3,452.3 312.9,444.7 313.5,450.2 314.1,450.3 314.7,441.8 315.3,449.8 315.9,448.0 316.5,451.8 317.1,453.8 317.7,442.6 318.3,453.9 318.9,455.6 319.5,450.6 320.1,450.2 320.7,446.0 321.3,455.7 321.9,452.9 322.5,457.6 323.1,450.1 323.7,454.8 324.3,446.1 324.9,455.8 325.5,454.1 326.1,459.7 326.7,453.5 327.3,454.5 327.9,450.1 328.5,454.9 329.1,457.7 329.7,459.6 330.3,460.5 330.9,459.7" fill="none" stroke="#5a9448" stroke-width="0.6" stroke-linejoin="round" stroke-linecap="round" opacity="0.75"/>
<polyline points="80.5,455.0 81.4,461.1 82.3,457.7 83.2,457.0 84.1,456.3 85.0,452.7 85.9,459.8 86.8,461.1 87.7,457.1 88.6,460.4 89.5,457.8 90.4,462.3 91.3,454.3 92.2,457.6 93.1,454.9 94.0,458.3 94.9,458.7 95.8,454.1 96.7,459.1 97.6,452.9 98.5,459.1 99.4,451.0 100.3,451.5 101.2,455.0 102.1,449.5 103.0,451.4 103.9,456.8 104.8,452.7 105.7,451.2 106.6,447.6 107.5,455.7 108.4,451.5 109.3,448.3 110.2,452.6 111.1,451.2 112.0,451.9 112.9,447.7 113.8,444.4 114.7,447.3 115.6,450.3 116.5,447.6 117.4,452.1 118.3,444.8 119.2,447.8 120.1,450.9 121.0,447.4 121.9,448.2 122.8,455.3 123.7,457.3 124.6,456.3 125.5,461.5" fill="none" stroke="#2d6a1c" stroke-width="1.0" stroke-linejoin="round" stroke-linecap="round" opacity="0.95"/>
<polyline points="145.7,463.8 146.6,462.8 147.5,462.4 148.4,462.6 149.3,460.6 150.2,461.2 151.1,460.7 152.0,463.0 152.9,457.8 153.8,460.2 154.7,457.5 155.6,459.7 156.5,456.4 157.4,458.6 158.3,460.2 159.2,456.4 160.1,454.9 161.0,454.2 161.9,453.9 162.8,457.7 163.7,452.8 164.6,454.1 165.5,454.9 166.4,456.3 167.3,452.7 168.2,454.0 169.1,453.4 170.0,450.1 170.9,452.3 171.8,450.1 172.7,452.7 173.6,451.1 174.5,451.2 175.4,450.6 176.3,452.1 177.2,450.7 178.1,448.3 179.0,446.7 179.9,450.0 180.8,447.8 181.7,444.0 182.6,446.2 183.5,443.6 184.4,445.7 185.3,443.9 186.2,444.4 187.1,446.5 188.0,446.3 188.9,445.8 189.8,444.6 190.7,441.4 191.6,443.5 192.5,441.7 193.4,445.4 194.3,447.9 195.2,448.7 196.1,445.0 197.0,445.1 197.9,445.2 198.8,445.7 199.7,450.8 200.6,452.4 201.5,451.0 202.4,452.8 203.3,449.6 204.2,449.4 205.1,455.3 206.0,453.3 206.9,457.1 207.8,452.0 208.7,454.2 209.6,456.2 210.5,458.7" fill="none" stroke="#2d6a1c" stroke-width="1.1" stroke-linejoin="round" stroke-linecap="round" opacity="0.95"/>
<polyline points="238.5,454.0 239.4,450.0 240.3,450.6 241.2,449.4 242.1,450.7 243.0,449.5 243.9,452.5 244.8,448.4 245.7,448.6 246.6,450.5 247.5,451.6 248.4,451.3 249.3,447.9 250.2,449.8 251.1,447.9 252.0,449.6 252.9,449.5 253.8,447.5 254.7,448.5 255.6,449.7 256.5,447.7 257.4,445.6 258.3,448.5 259.2,447.2 260.1,447.6 261.0,443.8 261.9,446.5 262.8,445.9 263.7,444.0 264.6,444.4 265.5,445.4 266.4,442.6 267.3,445.4 268.2,444.4 269.1,444.4 270.0,442.4 270.9,443.5 271.8,440.5 272.7,439.1 273.6,439.7 274.5,440.9 275.4,441.3 276.3,440.6 277.2,442.9 278.1,439.7 279.0,438.7 279.9,442.6 280.8,440.7 281.7,439.0 282.6,439.3 283.5,439.4 284.4,438.2 285.3,441.0 286.2,437.7 287.1,441.3 288.0,441.8 288.9,438.7 289.8,437.3 290.7,439.5 291.6,438.3 292.5,439.9 293.4,440.4 294.3,438.5 295.2,442.0 296.1,439.8 297.0,439.0 297.9,440.7 298.8,441.5 299.7,441.6 300.6,441.3 301.5,443.5 302.4,444.5 303.3,443.6 304.2,443.5 305.1,443.9 306.0,447.0 306.9,446.7 307.8,448.5 308.7,444.8 309.6,448.0 310.5,445.1 311.4,449.4 312.3,447.1 313.2,449.9 314.1,446.3 315.0,448.6 315.9,448.8 316.8,449.0 317.7,450.2 318.6,448.1 319.5,451.3 320.4,451.4 321.3,451.9 322.2,454.0 323.1,452.0 324.0,450.5 324.9,454.0 325.8,452.4 326.7,453.9 327.6,455.0 328.5,452.1 329.4,454.6 330.3,453.1 331.2,458.5" fill="none" stroke="#2d6a1c" stroke-width="1.1" stroke-linejoin="round" stroke-linecap="round" opacity="0.95"/>
<polyline points="43.0,330.4 43.5,331.1 43.9,332.8 44.4,333.9 45.8,333.2 46.8,333.9 47.9,333.9 48.3,332.0 48.8,331.7 49.2,330.1 49.7,329.4 50.1,327.5 51.2,327.3 52.2,326.1 53.2,325.2 54.3,324.7 55.3,325.3 56.4,325.4 57.5,324.9 58.5,324.0 59.2,322.9 60.0,321.9 60.7,320.5 61.8,321.9 62.8,322.6 63.9,321.8 64.9,321.9 66.0,320.6 67.0,319.8 68.0,319.2 69.1,318.4 70.0,317.0 71.7,316.5 72.2,317.7 72.8,319.3 73.7,318.5 74.5,317.0 75.1,315.6 75.6,314.7 76.2,314.2 77.1,315.0 77.9,315.9 78.8,314.0 79.6,313.6 80.4,315.1 81.3,315.9 82.2,314.3 83.0,313.6 83.6,313.8 84.1,315.8 84.7,316.5 85.6,316.9 86.4,317.6 87.0,316.5 87.5,314.8 88.1,314.2 89.8,313.6 90.3,314.6 90.9,315.3 91.8,314.2 92.6,313.1 94.3,313.6 96.0,313.1 96.4,311.3 96.7,311.1 97.1,309.7 97.5,307.7 97.8,307.3 98.2,305.7 98.8,304.8 99.4,303.5 101.1,304.0 101.9,303.4 102.8,302.9 104.5,302.3 105.2,302.7 105.9,304.0 106.6,303.3 107.3,301.2 108.2,301.4 109.0,300.1 110.4,299.5 111.1,297.7 111.3,296.8 111.6,295.8 111.8,294.2 112.5,295.0 113.2,296.3 114.0,296.3 114.7,294.9 115.4,294.1 116.1,293.5 116.8,294.7 117.5,295.6 118.2,294.6 118.9,294.2 120.3,294.9 121.7,294.2 122.2,295.7 122.6,296.2 123.1,297.7 123.4,299.5 123.7,300.7 123.9,300.6 124.2,301.9 124.5,303.4 124.9,305.2 125.2,306.3 125.6,308.1 126.0,309.0 127.0,310.4" fill="none" stroke="#000" stroke-width="1.3" stroke-linejoin="round" stroke-linecap="round"/>
<polyline points="138.6,323.8 139.3,322.9 140.1,322.4 141.1,321.8 142.2,321.7 143.2,321.4 144.3,320.3 145.4,319.9 146.4,319.6 147.4,319.1 148.5,318.2 149.2,317.0 150.0,316.1 151.1,315.9 152.1,314.7 152.8,313.3 153.5,311.8 154.2,314.0 154.9,314.7 155.6,313.5 156.3,312.7 157.0,311.8 158.1,311.4 159.1,311.1 159.8,310.8 160.5,309.7 161.2,308.7 162.0,308.3 162.7,308.6 163.4,309.7 164.1,307.7 164.8,306.9 165.9,305.3 166.9,304.8 167.6,302.7 168.3,302.0 169.0,300.1 169.7,299.1 170.4,299.3 171.1,300.5 172.5,301.2 173.2,300.8 174.0,299.8 174.7,299.8 175.4,301.2 176.1,300.4 176.8,298.3 177.5,297.7 178.2,296.4 178.9,295.6 179.9,295.0 181.0,295.6 181.9,295.8 182.8,294.8 183.9,294.1 184.9,294.8 185.9,294.8 187.0,294.1 188.1,294.3 189.1,294.1 190.1,292.7 191.2,292.7 191.9,292.9 192.7,294.1 193.4,295.8 194.1,296.2 194.8,296.9 195.9,297.4 196.9,298.4 197.9,299.9 199.0,300.5 199.7,300.2 200.4,298.4 200.9,299.4 201.3,300.1 201.8,301.9 202.5,303.3 203.2,304.0 204.3,305.3 205.4,305.4 206.4,306.3 207.5,306.1 208.6,306.0 209.6,307.5 210.6,308.2 211.7,309.0 213.4,309.7" fill="none" stroke="#000" stroke-width="1.3" stroke-linejoin="round" stroke-linecap="round"/>
<polyline points="235.2,309.0 236.4,308.9 237.7,309.8 238.5,310.7 239.3,311.3 240.1,312.2 240.9,311.3 241.7,310.1 242.5,309.0 243.3,307.5 244.1,307.4 245.7,308.2 246.5,306.7 247.3,306.6 248.1,306.7 248.9,308.2 249.7,307.7 250.5,306.5 251.3,305.8 252.6,305.6 253.8,304.2 255.0,303.2 256.2,302.5 257.8,301.7 258.6,303.3 259.4,304.2 260.0,303.6 260.6,301.3 261.2,301.0 261.8,299.3 263.0,298.5 264.2,297.7 265.4,297.6 266.6,296.9 267.9,296.7 269.1,295.3 270.3,294.5 271.5,295.3 272.7,293.8 273.9,293.7 275.5,292.9 276.3,294.7 277.1,295.3 278.3,295.6 279.5,296.9 280.7,296.8 281.9,295.3 283.0,295.3 284.2,295.3 285.5,294.4 286.8,294.1 288.1,294.4 289.4,294.8 290.6,293.6 291.9,294.8 293.2,294.4 294.4,293.6 295.7,294.4 297.0,294.9 298.3,294.4 299.6,295.2 300.8,295.3 301.4,296.0 301.9,297.5 302.5,298.6 303.1,299.3 303.6,301.4 304.2,302.0 305.4,301.2 306.7,301.2 308.0,301.7 309.3,302.9 310.6,302.2 311.8,302.0 312.4,303.1 312.9,303.6 313.5,305.4 314.8,305.3 316.1,303.7 317.4,304.3 318.6,305.4 319.9,305.3 321.1,304.6 322.0,306.2 322.8,306.2 323.7,307.1 324.3,305.2 324.9,303.9 325.6,303.4 326.2,302.0 326.6,303.4 327.0,305.2 327.5,306.0 327.9,307.1 329.2,307.9 330.5,308.0 331.3,306.7 332.2,306.1 333.0,305.4 334.7,306.3 335.5,307.3 336.4,308.8 337.0,310.4 337.5,311.8 338.1,312.2 338.2,314.1 338.3,314.9 338.4,315.9 338.6,316.3 338.7,317.7 338.8,320.1 338.9,320.7 339.8,322.4 340.0,320.9 340.1,319.2 340.3,317.8 340.4,317.0 340.6,315.6" fill="none" stroke="#000" stroke-width="1.3" stroke-linejoin="round" stroke-linecap="round"/>
<polyline points="43.0,378.3 43.5,379.0 43.9,380.8 44.4,381.8 45.8,381.1 46.8,381.9 47.9,381.8 48.3,379.9 48.8,379.6 49.2,378.0 49.7,377.3 50.1,375.4 51.2,375.3 52.2,374.0 53.2,373.1 54.3,372.6 55.3,373.2 56.4,373.3 57.5,372.8 58.5,371.9 59.2,370.8 60.0,369.9 60.7,368.4 61.8,369.8 62.8,370.5 63.9,369.8 64.9,369.8 66.0,368.5 67.0,367.7 68.0,367.1 69.1,366.3 70.0,364.9 71.7,364.4 72.2,365.7 72.8,367.2 73.7,366.4 74.5,364.9 75.1,363.6 75.6,362.6 76.2,362.1 77.1,362.9 77.9,363.8 78.8,362.0 79.6,361.5 80.4,363.0 81.3,363.8 82.2,362.3 83.0,361.5 83.6,361.7 84.1,363.7 84.7,364.4 85.6,364.8 86.4,365.5 87.0,364.4 87.5,362.8 88.1,362.1 89.8,361.5 90.3,362.6 90.9,363.2 91.8,362.1 92.6,361.0 94.3,361.5 96.0,361.0 96.4,359.2 96.7,359.1 97.1,357.6 97.5,355.7 97.8,355.2 98.2,353.6 98.8,352.7 99.4,351.4 101.1,351.9 101.9,351.3 102.8,350.8 104.5,350.2 105.2,350.6 105.9,351.9 106.6,351.2 107.3,349.1 108.2,349.4 109.0,348.0 110.4,347.4 111.1,345.6 111.3,344.7 111.6,343.8 111.8,342.1 112.5,342.9 113.2,344.2 114.0,344.2 114.7,342.8 115.4,342.0 116.1,341.4 116.8,342.7 117.5,343.5 118.2,342.6 118.9,342.1 120.3,342.8 121.7,342.1 122.2,343.6 122.6,344.1 123.1,345.6 123.4,347.5 123.7,348.6 123.9,348.6 124.2,349.9 124.5,351.3 124.9,353.2 125.2,354.2 125.6,356.0 126.0,356.9 127.0,358.3" fill="none" stroke="#000" stroke-width="1.3" stroke-linejoin="round" stroke-linecap="round"/>
<polyline points="138.6,371.7 139.3,370.9 140.1,370.3 141.1,369.7 142.2,369.6 143.2,369.3 144.3,368.2 145.4,367.8 146.4,367.5 147.4,367.0 148.5,366.1 149.2,364.9 150.0,364.0 151.1,363.8 152.1,362.6 152.8,361.2 153.5,359.7 154.2,361.9 154.9,362.6 155.6,361.4 156.3,360.6 157.0,359.7 158.1,359.3 159.1,359.0 159.8,358.7 160.5,357.6 161.2,356.6 162.0,356.2 162.7,356.5 163.4,357.6 164.1,355.7 164.8,354.8 165.9,353.2 166.9,352.7 167.6,350.6 168.3,349.9 169.0,348.1 169.7,347.0 170.4,347.2 171.1,348.4 172.5,349.1 173.2,348.8 174.0,347.7 174.7,347.8 175.4,349.1 176.1,348.4 176.8,346.2 177.5,345.6 178.2,344.4 178.9,343.5 179.9,342.9 181.0,343.5 181.9,343.7 182.8,342.7 183.9,342.0 184.9,342.7 185.9,342.7 187.0,342.0 188.1,342.3 189.1,342.0 190.1,340.6 191.2,340.6 191.9,340.8 192.7,342.0 193.4,343.7 194.1,344.1 194.8,344.8 195.9,345.3 196.9,346.3 197.9,347.8 199.0,348.4 199.7,348.1 200.4,346.3 200.9,347.4 201.3,348.0 201.8,349.8 202.5,351.3 203.2,351.9 204.3,353.2 205.4,353.3 206.4,354.2 207.5,354.0 208.6,353.9 209.6,355.4 210.6,356.1 211.7,356.9 213.4,357.6" fill="none" stroke="#000" stroke-width="1.3" stroke-linejoin="round" stroke-linecap="round"/>
<polyline points="235.2,356.9 236.4,356.8 237.7,357.7 238.5,358.6 239.3,359.2 240.1,360.1 240.9,359.2 241.7,358.0 242.5,356.9 243.3,355.4 244.1,355.3 245.7,356.1 246.5,354.7 247.3,354.5 248.1,354.6 248.9,356.1 249.7,355.6 250.5,354.5 251.3,353.7 252.6,353.6 253.8,352.1 255.0,351.1 256.2,350.4 257.8,349.6 258.6,351.3 259.4,352.1 260.0,351.6 260.6,349.3 261.2,349.0 261.8,347.2 263.0,346.4 264.2,345.6 265.4,345.5 266.6,344.8 267.9,344.7 269.1,343.2 270.3,342.4 271.5,343.2 272.7,341.7 273.9,341.6 275.5,340.8 276.3,342.7 277.1,343.2 278.3,343.5 279.5,344.8 280.7,344.7 281.9,343.2 283.0,343.2 284.2,343.2 285.5,342.3 286.8,342.0 288.1,342.3 289.4,342.7 290.6,341.5 291.9,342.7 293.2,342.3 294.4,341.5 295.7,342.3 297.0,342.8 298.3,342.3 299.6,343.1 300.8,343.2 301.4,343.9 301.9,345.4 302.5,346.5 303.1,347.2 303.6,349.3 304.2,349.9 305.4,349.1 306.7,349.1 308.0,349.6 309.3,350.8 310.6,350.1 311.8,349.9 312.4,351.0 312.9,351.5 313.5,353.3 314.8,353.2 316.1,351.6 317.4,352.3 318.6,353.3 319.9,353.2 321.1,352.5 322.0,354.1 322.8,354.1 323.7,355.0 324.3,353.1 324.9,351.9 325.6,351.3 326.2,349.9 326.6,351.3 327.0,353.2 327.5,354.0 327.9,355.0 329.2,355.9 330.5,355.9 331.3,354.6 332.2,354.1 333.0,353.3 334.7,354.2 335.5,355.2 336.4,356.7 337.0,358.3 337.5,359.8 338.1,360.1 338.2,362.1 338.3,362.9 338.4,363.8 338.6,364.3 338.7,365.6 338.8,368.0 338.9,368.6 339.8,370.3 340.0,368.8 340.1,367.1 340.3,365.8 340.4,364.9 340.6,363.5" fill="none" stroke="#000" stroke-width="1.3" stroke-linejoin="round" stroke-linecap="round"/>
<polyline points="43.0,426.3 43.5,426.9 43.9,428.7 44.4,429.8 45.8,429.1 46.8,429.8 47.9,429.8 48.3,427.9 48.8,427.6 49.2,425.9 49.7,425.2 50.1,423.4 51.2,423.2 52.2,422.0 53.2,421.0 54.3,420.6 55.3,421.2 56.4,421.3 57.5,420.7 58.5,419.9 59.2,418.7 60.0,417.8 60.7,416.4 61.8,417.7 62.8,418.5 63.9,417.7 64.9,417.8 66.0,416.4 67.0,415.7 68.0,415.1 69.1,414.3 70.0,412.9 71.7,412.4 72.2,413.6 72.8,415.2 73.7,414.3 74.5,412.9 75.1,411.5 75.6,410.6 76.2,410.1 77.1,410.8 77.9,411.8 78.8,409.9 79.6,409.5 80.4,411.0 81.3,411.8 82.2,410.2 83.0,409.5 83.6,409.6 84.1,411.7 84.7,412.4 85.6,412.7 86.4,413.5 87.0,412.3 87.5,410.7 88.1,410.1 89.8,409.5 90.3,410.5 90.9,411.2 91.8,410.0 92.6,409.0 94.3,409.5 96.0,409.0 96.4,407.1 96.7,407.0 97.1,405.6 97.5,403.6 97.8,403.1 98.2,401.6 98.8,400.6 99.4,399.4 101.1,399.9 101.9,399.2 102.8,398.8 104.5,398.2 105.2,398.6 105.9,399.9 106.6,399.1 107.3,397.1 108.2,397.3 109.0,396.0 110.4,395.4 111.1,393.6 111.3,392.6 111.6,391.7 111.8,390.1 112.5,390.8 113.2,392.2 114.0,392.2 114.7,390.8 115.4,390.0 116.1,389.4 116.8,390.6 117.5,391.5 118.2,390.5 118.9,390.1 120.3,390.8 121.7,390.1 122.2,391.5 122.6,392.0 123.1,393.6 123.4,395.4 123.7,396.5 123.9,396.5 124.2,397.8 124.5,399.3 124.9,401.1 125.2,402.1 125.6,404.0 126.0,404.9 127.0,406.3" fill="none" stroke="#000" stroke-width="1.3" stroke-linejoin="round" stroke-linecap="round"/>
<polyline points="138.6,419.7 139.3,418.8 140.1,418.3 141.1,417.6 142.2,417.6 143.2,417.2 144.3,416.2 145.4,415.7 146.4,415.5 147.4,414.9 148.5,414.1 149.2,412.8 150.0,412.0 151.1,411.7 152.1,410.6 152.8,409.2 153.5,407.7 154.2,409.9 154.9,410.6 155.6,409.4 156.3,408.6 157.0,407.7 158.1,407.2 159.1,407.0 159.8,406.6 160.5,405.6 161.2,404.6 162.0,404.2 162.7,404.4 163.4,405.6 164.1,403.6 164.8,402.8 165.9,401.1 166.9,400.7 167.6,398.6 168.3,397.9 169.0,396.0 169.7,395.0 170.4,395.1 171.1,396.4 172.5,397.1 173.2,396.7 174.0,395.7 174.7,395.7 175.4,397.1 176.1,396.3 176.8,394.2 177.5,393.6 178.2,392.3 178.9,391.5 179.9,390.8 181.0,391.5 181.9,391.7 182.8,390.7 183.9,389.9 184.9,390.7 185.9,390.6 187.0,390.0 188.1,390.2 189.1,390.0 190.1,388.6 191.2,388.6 191.9,388.8 192.7,390.0 193.4,391.6 194.1,392.1 194.8,392.8 195.9,393.3 196.9,394.3 197.9,395.7 199.0,396.4 199.7,396.0 200.4,394.3 200.9,395.3 201.3,395.9 201.8,397.8 202.5,399.2 203.2,399.9 204.3,401.2 205.4,401.3 206.4,402.2 207.5,402.0 208.6,401.9 209.6,403.4 210.6,404.0 211.7,404.9 213.4,405.6" fill="none" stroke="#000" stroke-width="1.3" stroke-linejoin="round" stroke-linecap="round"/>
<polyline points="235.2,404.9 236.4,404.7 237.7,405.7 238.5,406.6 239.3,407.2 240.1,408.1 240.9,407.1 241.7,406.0 242.5,404.9 243.3,403.3 244.1,403.3 245.7,404.1 246.5,402.6 247.3,402.5 248.1,402.6 248.9,404.1 249.7,403.5 250.5,402.4 251.3,401.7 252.6,401.5 253.8,400.1 255.0,399.1 256.2,398.4 257.8,397.6 258.6,399.2 259.4,400.1 260.0,399.5 260.6,397.2 261.2,396.9 261.8,395.2 263.0,394.3 264.2,393.6 265.4,393.5 266.6,392.8 267.9,392.6 269.1,391.2 270.3,390.4 271.5,391.2 272.7,389.7 273.9,389.6 275.5,388.8 276.3,390.6 277.1,391.2 278.3,391.4 279.5,392.8 280.7,392.7 281.9,391.2 283.0,391.2 284.2,391.1 285.5,390.3 286.8,390.0 288.1,390.3 289.4,390.6 290.6,389.5 291.9,390.6 293.2,390.3 294.4,389.5 295.7,390.3 297.0,390.7 298.3,390.3 299.6,391.1 300.8,391.2 301.4,391.9 301.9,393.3 302.5,394.5 303.1,395.1 303.6,397.2 304.2,397.9 305.4,397.0 306.7,397.1 308.0,397.5 309.3,398.8 310.6,398.0 311.8,397.9 312.4,398.9 312.9,399.4 313.5,401.3 314.8,401.2 316.1,399.6 317.4,400.2 318.6,401.3 319.9,401.1 321.1,400.5 322.0,402.0 322.8,402.1 323.7,403.0 324.3,401.0 324.9,399.8 325.6,399.3 326.2,397.9 326.6,399.3 327.0,401.1 327.5,401.9 327.9,403.0 329.2,403.8 330.5,403.9 331.3,402.6 332.2,402.0 333.0,401.3 334.7,402.2 335.5,403.1 336.4,404.7 337.0,406.3 337.5,407.7 338.1,408.1 338.2,410.0 338.3,410.8 338.4,411.8 338.6,412.2 338.7,413.6 338.8,416.0 338.9,416.6 339.8,418.3 340.0,416.8 340.1,415.1 340.3,413.7 340.4,412.9 340.6,411.5" fill="none" stroke="#000" stroke-width="1.3" stroke-linejoin="round" stroke-linecap="round"/>
<polyline points="43.0,474.2 43.5,474.9 43.9,476.6 44.4,477.7 45.8,477.0 46.8,477.7 47.9,477.7 48.3,475.8 48.8,475.5 49.2,473.8 49.7,473.2 50.1,471.3 51.2,471.1 52.2,469.9 53.2,469.0 54.3,468.5 55.3,469.1 56.4,469.2 57.5,468.6 58.5,467.8 59.2,466.7 60.0,465.7 60.7,464.3 61.8,465.6 62.8,466.4 63.9,465.6 64.9,465.7 66.0,464.4 67.0,463.6 68.0,463.0 69.1,462.2 70.0,460.8 71.7,460.3 72.2,461.5 72.8,463.1 73.7,462.3 74.5,460.8 75.1,459.4 75.6,458.5 76.2,458.0 77.1,458.8 77.9,459.7 78.8,457.8 79.6,457.4 80.4,458.9 81.3,459.7 82.2,458.1 83.0,457.4 83.6,457.6 84.1,459.6 84.7,460.3 85.6,460.7 86.4,461.4 87.0,460.3 87.5,458.6 88.1,458.0 89.8,457.4 90.3,458.4 90.9,459.1 91.8,458.0 92.6,456.9 94.3,457.4 96.0,456.9 96.4,455.1 96.7,454.9 97.1,453.5 97.5,451.5 97.8,451.1 98.2,449.5 98.8,448.6 99.4,447.3 101.1,447.8 101.9,447.2 102.8,446.7 104.5,446.1 105.2,446.5 105.9,447.8 106.6,447.1 107.3,445.0 108.2,445.2 109.0,443.9 110.4,443.3 111.1,441.5 111.3,440.6 111.6,439.6 111.8,438.0 112.5,438.8 113.2,440.1 114.0,440.1 114.7,438.7 115.4,437.9 116.1,437.3 116.8,438.5 117.5,439.4 118.2,438.4 118.9,438.0 120.3,438.7 121.7,438.0 122.2,439.5 122.6,440.0 123.1,441.5 123.4,443.3 123.7,444.5 123.9,444.4 124.2,445.7 124.5,447.2 124.9,449.0 125.2,450.1 125.6,451.9 126.0,452.8 127.0,454.2" fill="none" stroke="#000" stroke-width="1.3" stroke-linejoin="round" stroke-linecap="round"/>
<polyline points="138.6,467.6 139.3,466.7 140.1,466.2 141.1,465.6 142.2,465.5 143.2,465.2 144.3,464.1 145.4,463.7 146.4,463.4 147.4,462.9 148.5,462.0 149.2,460.7 150.0,459.9 151.1,459.6 152.1,458.5 152.8,457.1 153.5,455.6 154.2,457.8 154.9,458.5 155.6,457.3 156.3,456.5 157.0,455.6 158.1,455.1 159.1,454.9 159.8,454.6 160.5,453.5 161.2,452.5 162.0,452.1 162.7,452.4 163.4,453.5 164.1,451.5 164.8,450.7 165.9,449.1 166.9,448.6 167.6,446.5 168.3,445.8 169.0,443.9 169.7,442.9 170.4,443.1 171.1,444.3 172.5,445.0 173.2,444.6 174.0,443.6 174.7,443.6 175.4,445.0 176.1,444.2 176.8,442.1 177.5,441.5 178.2,440.2 178.9,439.4 179.9,438.7 181.0,439.4 181.9,439.6 182.8,438.6 183.9,437.8 184.9,438.6 185.9,438.6 187.0,437.9 188.1,438.1 189.1,437.9 190.1,436.5 191.2,436.5 191.9,436.7 192.7,437.9 193.4,439.6 194.1,440.0 194.8,440.7 195.9,441.2 196.9,442.2 197.9,443.7 199.0,444.3 199.7,443.9 200.4,442.2 200.9,443.2 201.3,443.9 201.8,445.7 202.5,447.1 203.2,447.8 204.3,449.1 205.4,449.2 206.4,450.1 207.5,449.9 208.6,449.8 209.6,451.3 210.6,452.0 211.7,452.8 213.4,453.5" fill="none" stroke="#000" stroke-width="1.3" stroke-linejoin="round" stroke-linecap="round"/>
<polyline points="235.2,452.8 236.4,452.7 237.7,453.6 238.5,454.5 239.3,455.1 240.1,456.0 240.9,455.0 241.7,453.9 242.5,452.8 243.3,451.3 244.1,451.2 245.7,452.0 246.5,450.5 247.3,450.4 248.1,450.5 248.9,452.0 249.7,451.5 250.5,450.3 251.3,449.6 252.6,449.4 253.8,448.0 255.0,447.0 256.2,446.3 257.8,445.5 258.6,447.1 259.4,448.0 260.0,447.4 260.6,445.1 261.2,444.8 261.8,443.1 263.0,442.3 264.2,441.5 265.4,441.4 266.6,440.7 267.9,440.5 269.1,439.1 270.3,438.3 271.5,439.1 272.7,437.6 273.9,437.5 275.5,436.7 276.3,438.5 277.1,439.1 278.3,439.4 279.5,440.7 280.7,440.6 281.9,439.1 283.0,439.1 284.2,439.0 285.5,438.2 286.8,437.9 288.1,438.2 289.4,438.6 290.6,437.4 291.9,438.6 293.2,438.2 294.4,437.4 295.7,438.2 297.0,438.7 298.3,438.2 299.6,439.0 300.8,439.1 301.4,439.8 301.9,441.2 302.5,442.4 303.1,443.1 303.6,445.2 304.2,445.8 305.4,444.9 306.7,445.0 308.0,445.5 309.3,446.7 310.6,445.9 311.8,445.8 312.4,446.8 312.9,447.3 313.5,449.2 314.8,449.1 316.1,447.5 317.4,448.1 318.6,449.2 319.9,449.1 321.1,448.4 322.0,449.9 322.8,450.0 323.7,450.9 324.3,449.0 324.9,447.7 325.6,447.2 326.2,445.8 326.6,447.2 327.0,449.0 327.5,449.8 327.9,450.9 329.2,451.7 330.5,451.8 331.3,450.5 332.2,449.9 333.0,449.2 334.7,450.1 335.5,451.1 336.4,452.6 337.0,454.2 337.5,455.6 338.1,456.0 338.2,457.9 338.3,458.7 338.4,459.7 338.6,460.1 338.7,461.5 338.8,463.9 338.9,464.5 339.8,466.2 340.0,464.7 340.1,463.0 340.3,461.6 340.4,460.8 340.6,459.4" fill="none" stroke="#000" stroke-width="1.3" stroke-linejoin="round" stroke-linecap="round"/>
<path d="M50.9 584.9V626.4M49.1 584.9h3.6M49.1 626.4h3.6M49.1 605.3h3.6M54.3 585.4V627.5M52.5 585.4h3.6M52.5 627.5h3.6M52.5 606.1h3.6M57.7 583.1V624.7M55.9 583.1h3.6M55.9 624.7h3.6M55.9 604.2h3.6M61.1 584.3V620.8M59.3 584.3h3.6M59.3 620.8h3.6M59.3 602.1h3.6M65.0 580.1V608.3M63.2 580.1h3.6M63.2 608.3h3.6M63.2 594.2h3.6M68.1 582.3V608.3M66.3 582.3h3.6M66.3 608.3h3.6M66.3 595.3h3.6M71.8 572.7V597.0M70.0 572.7h3.6M70.0 597.0h3.6M70.0 585.0h3.6M75.5 567.6V590.0M73.7 567.6h3.6M73.7 590.0h3.6M73.7 579.0h3.6M78.9 572.2V590.3M77.1 572.2h3.6M77.1 590.3h3.6M77.1 581.0h3.6M82.3 578.6V593.1M80.5 578.6h3.6M80.5 593.1h3.6M80.5 586.0h3.6M85.7 586.3V599.8M83.9 586.3h3.6M83.9 599.8h3.6M83.9 593.0h3.6M88.8 581.2V599.0M87.0 581.2h3.6M87.0 599.0h3.6M87.0 590.0h3.6M92.1 581.2V593.9M90.3 581.2h3.6M90.3 593.9h3.6M90.3 587.5h3.6M95.6 579.8V592.5M93.8 579.8h3.6M93.8 592.5h3.6M93.8 586.0h3.6M99.2 571.3V581.2M97.4 571.3h3.6M97.4 581.2h3.6M97.4 576.0h3.6M102.7 568.9V581.2M100.9 568.9h3.6M100.9 581.2h3.6M100.9 575.0h3.6M106.2 564.2V576.2M104.4 564.2h3.6M104.4 576.2h3.6M104.4 570.0h3.6M109.8 565.7V577.7M108.0 565.7h3.6M108.0 577.7h3.6M108.0 571.7h3.6M113.0 560.4V573.4M111.2 560.4h3.6M111.2 573.4h3.6M111.2 567.0h3.6M116.6 557.2V568.5M114.8 557.2h3.6M114.8 568.5h3.6M114.8 563.0h3.6M119.9 562.1V574.1M118.1 562.1h3.6M118.1 574.1h3.6M118.1 568.0h3.6M123.9 571.3V584.0M122.1 571.3h3.6M122.1 584.0h3.6M122.1 577.6h3.6M127.0 580.5V594.3M125.2 580.5h3.6M125.2 594.3h3.6M125.2 587.4h3.6" stroke="#5e5450" stroke-width="0.75" fill="none"/>
<path d="M140.3 593.7V606.4M138.3 593.7h4.0M138.3 606.4h4.0M138.3 602.0h4.0M139.7 597.6V603.4M137.7 597.6h4.0M137.7 603.4h4.0M137.7 600.5h4.0M142.7 593.5V604.7M140.7 593.5h4.0M140.7 604.7h4.0M140.7 597.4h4.0M142.3 592.1V600.4M140.3 592.1h4.0M140.3 600.4h4.0M140.3 596.2h4.0M145.0 592.0V602.0M143.0 592.0h4.0M143.0 602.0h4.0M143.0 595.9h4.0M145.4 594.3V598.5M143.4 594.3h4.0M143.4 598.5h4.0M143.4 596.4h4.0M147.7 592.2V599.7M145.7 592.2h4.0M145.7 599.7h4.0M145.7 595.6h4.0M147.2 592.7V598.9M145.2 592.7h4.0M145.2 598.9h4.0M145.2 595.8h4.0M150.0 591.4V599.2M148.0 591.4h4.0M148.0 599.2h4.0M148.0 595.9h4.0M149.8 593.7V597.1M147.8 593.7h4.0M147.8 597.1h4.0M147.8 595.4h4.0M152.8 590.2V598.0M150.8 590.2h4.0M150.8 598.0h4.0M150.8 594.6h4.0M152.7 592.6V596.6M150.7 592.6h4.0M150.7 596.6h4.0M150.7 594.6h4.0M153.1 586.6V593.4M151.1 586.6h4.0M151.1 593.4h4.0M151.1 590.5h4.0M152.8 587.6V590.4M150.8 587.6h4.0M150.8 590.4h4.0M150.8 589.0h4.0M155.7 587.5V593.0M153.7 587.5h4.0M153.7 593.0h4.0M153.7 590.8h4.0M157.8 583.1V604.3M155.8 583.1h4.0M155.8 604.3h4.0M155.8 596.0h4.0M160.7 580.9V596.4M158.7 580.9h4.0M158.7 596.4h4.0M158.7 591.5h4.0M161.1 576.2V590.2M159.1 576.2h4.0M159.1 590.2h4.0M159.1 582.5h4.0M160.5 577.5V587.6M158.5 577.5h4.0M158.5 587.6h4.0M158.5 582.6h4.0M163.7 574.3V586.7M161.7 574.3h4.0M161.7 586.7h4.0M161.7 582.5h4.0M166.2 571.2V581.4M164.2 571.2h4.0M164.2 581.4h4.0M164.2 574.6h4.0M169.1 568.5V578.0M167.1 568.5h4.0M167.1 578.0h4.0M167.1 572.3h4.0M168.9 571.0V577.3M166.9 571.0h4.0M166.9 577.3h4.0M166.9 574.2h4.0M170.1 563.7V578.8M168.1 563.7h4.0M168.1 578.8h4.0M168.1 573.7h4.0M169.5 562.6V570.3M167.5 562.6h4.0M167.5 570.3h4.0M167.5 566.4h4.0M172.2 560.0V577.5M170.2 560.0h4.0M170.2 577.5h4.0M170.2 568.5h4.0M175.2 561.5V576.1M173.2 561.5h4.0M173.2 576.1h4.0M173.2 569.1h4.0M175.3 564.6V572.5M173.3 564.6h4.0M173.3 572.5h4.0M173.3 568.6h4.0M177.8 559.3V574.5M175.8 559.3h4.0M175.8 574.5h4.0M175.8 565.8h4.0M178.1 557.9V570.2M176.1 557.9h4.0M176.1 570.2h4.0M176.1 564.1h4.0M180.1 558.5V574.0M178.1 558.5h4.0M178.1 574.0h4.0M178.1 568.8h4.0M182.3 559.7V571.5M180.3 559.7h4.0M180.3 571.5h4.0M180.3 565.1h4.0M182.1 558.6V569.0M180.1 558.6h4.0M180.1 569.0h4.0M180.1 563.8h4.0M185.5 559.3V574.8M183.5 559.3h4.0M183.5 574.8h4.0M183.5 565.7h4.0M187.9 560.9V570.6M185.9 560.9h4.0M185.9 570.6h4.0M185.9 566.8h4.0M187.7 563.3V570.3M185.7 563.3h4.0M185.7 570.3h4.0M185.7 566.8h4.0M190.2 558.7V570.6M188.2 558.7h4.0M188.2 570.6h4.0M188.2 563.4h4.0M190.5 559.0V567.9M188.5 559.0h4.0M188.5 567.9h4.0M188.5 563.4h4.0M192.8 560.7V571.7M190.8 560.7h4.0M190.8 571.7h4.0M190.8 564.8h4.0M193.1 561.8V571.8M191.1 561.8h4.0M191.1 571.8h4.0M191.1 566.8h4.0M194.9 570.0V581.8M192.9 570.0h4.0M192.9 581.8h4.0M192.9 578.1h4.0M197.4 569.6V584.6M195.4 569.6h4.0M195.4 584.6h4.0M195.4 574.8h4.0M200.3 575.6V587.8M198.3 575.6h4.0M198.3 587.8h4.0M198.3 581.2h4.0M200.0 574.1V581.6M198.0 574.1h4.0M198.0 581.6h4.0M198.0 577.8h4.0M203.1 574.2V589.2M201.1 574.2h4.0M201.1 589.2h4.0M201.1 581.1h4.0M203.5 573.9V584.6M201.5 573.9h4.0M201.5 584.6h4.0M201.5 579.3h4.0" stroke="#5e5450" stroke-width="0.75" fill="none"/>
<path d="M284 568H298V590H284Z M300 557H302V584H300Z M303 572H309V600H303Z" fill="#b4aeab" opacity="0.6"/>
<path d="M230.6 574.6V590.7M228.6 574.6h4.0M228.6 590.7h4.0M228.6 583.8h4.0M232.5 576.3V590.8M230.5 576.3h4.0M230.5 590.8h4.0M230.5 583.8h4.0M234.7 577.3V590.2M232.7 577.3h4.0M232.7 590.2h4.0M232.7 582.2h4.0M234.9 580.4V591.3M232.9 580.4h4.0M232.9 591.3h4.0M232.9 585.9h4.0M236.7 575.9V592.2M234.7 575.9h4.0M234.7 592.2h4.0M234.7 582.0h4.0M238.5 576.5V592.1M236.5 576.5h4.0M236.5 592.1h4.0M236.5 583.4h4.0M240.7 576.8V591.4M238.7 576.8h4.0M238.7 591.4h4.0M238.7 586.4h4.0M240.9 576.2V586.4M238.9 576.2h4.0M238.9 586.4h4.0M238.9 581.3h4.0M250.7 579.0V586.2M248.7 579.0h4.0M248.7 586.2h4.0M248.7 583.7h4.0M252.7 578.8V585.3M250.7 578.8h4.0M250.7 585.3h4.0M250.7 582.4h4.0M254.9 578.7V585.7M252.9 578.7h4.0M252.9 585.7h4.0M252.9 583.3h4.0M256.8 579.8V586.1M254.8 579.8h4.0M254.8 586.1h4.0M254.8 584.1h4.0M258.8 578.1V585.5M256.8 578.1h4.0M256.8 585.5h4.0M256.8 581.5h4.0M258.3 580.1V586.2M256.3 580.1h4.0M256.3 586.2h4.0M256.3 583.2h4.0M259.7 571.7V582.4M257.7 571.7h4.0M257.7 582.4h4.0M257.7 575.7h4.0M259.7 572.9V577.3M257.7 572.9h4.0M257.7 577.3h4.0M257.7 575.1h4.0M261.5 568.2V581.5M259.5 568.2h4.0M259.5 581.5h4.0M259.5 574.0h4.0M263.4 566.2V580.1M261.4 566.2h4.0M261.4 580.1h4.0M261.4 574.3h4.0M263.9 568.1V577.6M261.9 568.1h4.0M261.9 577.6h4.0M261.9 572.9h4.0M265.4 565.8V577.4M263.4 565.8h4.0M263.4 577.4h4.0M263.4 569.6h4.0M265.9 569.4V576.9M263.9 569.4h4.0M263.9 576.9h4.0M263.9 573.2h4.0M267.5 563.5V576.4M265.5 563.5h4.0M265.5 576.4h4.0M265.5 568.8h4.0M268.3 565.1V575.4M266.3 565.1h4.0M266.3 575.4h4.0M266.3 570.3h4.0M268.0 560.6V573.6M266.0 560.6h4.0M266.0 573.6h4.0M266.0 569.0h4.0M268.4 563.0V574.2M266.4 563.0h4.0M266.4 574.2h4.0M266.4 568.6h4.0M269.5 557.7V572.4M267.5 557.7h4.0M267.5 572.4h4.0M267.5 564.8h4.0M271.6 560.3V572.4M269.6 560.3h4.0M269.6 572.4h4.0M269.6 564.3h4.0M273.4 557.9V575.5M271.4 557.9h4.0M271.4 575.5h4.0M271.4 567.2h4.0M273.7 560.6V573.3M271.7 560.6h4.0M271.7 573.3h4.0M271.7 566.9h4.0M275.2 569.3V586.0M273.2 569.3h4.0M273.2 586.0h4.0M273.2 580.4h4.0M275.1 573.8V584.3M273.1 573.8h4.0M273.1 584.3h4.0M273.1 579.1h4.0M277.2 570.5V585.5M275.2 570.5h4.0M275.2 585.5h4.0M275.2 579.1h4.0M278.8 570.1V586.3M276.8 570.1h4.0M276.8 586.3h4.0M276.8 579.7h4.0M280.6 570.7V588.7M278.6 570.7h4.0M278.6 588.7h4.0M278.6 582.4h4.0M280.6 579.1V585.8M278.6 579.1h4.0M278.6 585.8h4.0M278.6 582.5h4.0M282.7 571.9V585.4M280.7 571.9h4.0M280.7 585.4h4.0M280.7 578.6h4.0M282.6 571.6V582.2M280.6 571.6h4.0M280.6 582.2h4.0M280.6 576.9h4.0M284.5 573.5V588.7M282.5 573.5h4.0M282.5 588.7h4.0M282.5 582.1h4.0M286.7 572.9V585.5M284.7 572.9h4.0M284.7 585.5h4.0M284.7 581.8h4.0M286.5 580.6V586.3M284.5 580.6h4.0M284.5 586.3h4.0M284.5 583.5h4.0M288.7 573.1V587.5M286.7 573.1h4.0M286.7 587.5h4.0M286.7 579.7h4.0M290.2 566.9V583.8M288.2 566.9h4.0M288.2 583.8h4.0M288.2 576.7h4.0M292.2 569.5V581.8M290.2 569.5h4.0M290.2 581.8h4.0M290.2 574.4h4.0M292.6 572.1V584.3M290.6 572.1h4.0M290.6 584.3h4.0M290.6 578.2h4.0M293.8 568.8V581.5M291.8 568.8h4.0M291.8 581.5h4.0M291.8 572.4h4.0M294.4 567.9V578.8M292.4 567.9h4.0M292.4 578.8h4.0M292.4 573.4h4.0M296.4 568.6V581.3M294.4 568.6h4.0M294.4 581.3h4.0M294.4 574.6h4.0M300.3 558.6V583.3M298.3 558.6h4.0M298.3 583.3h4.0M298.3 571.0h4.0M303.3 573.4V598.8M301.3 573.4h4.0M301.3 598.8h4.0M301.3 586.1h4.0M304.8 553.6V601.7M302.8 553.6h4.0M302.8 601.7h4.0M302.8 577.7h4.0M306.2 553.0V598.8M304.2 553.0h4.0M304.2 598.8h4.0M304.2 575.9h4.0M308.4 566.6V601.7M306.4 566.6h4.0M306.4 601.7h4.0M306.4 584.2h4.0" stroke="#5e5450" stroke-width="0.75" fill="none"/>
<path d="M51.1 641.7V686.6M49.3 641.7h3.6M49.3 686.6h3.6M49.3 664.6h3.6M54.5 657.8V689.2M52.7 657.8h3.6M52.7 689.2h3.6M52.7 673.0h3.6M57.9 642.4V673.9M56.1 642.4h3.6M56.1 673.9h3.6M56.1 657.9h3.6M61.4 635.3V663.7M59.6 635.3h3.6M59.6 663.7h3.6M59.6 649.4h3.6M64.9 636.0V665.4M63.1 636.0h3.6M63.1 665.4h3.6M63.1 650.1h3.6M68.4 638.1V661.2M66.6 638.1h3.6M66.6 661.2h3.6M66.6 649.4h3.6M72.0 626.8V657.0M70.2 626.8h3.6M70.2 657.0h3.6M70.2 641.7h3.6M75.5 614.1V651.9M73.7 614.1h3.6M73.7 651.9h3.6M73.7 630.4h3.6M79.0 616.2V646.8M77.2 616.2h3.6M77.2 646.8h3.6M77.2 631.1h3.6M82.3 624.0V651.3M80.5 624.0h3.6M80.5 651.3h3.6M80.5 638.1h3.6M85.5 626.8V655.2M83.7 626.8h3.6M83.7 655.2h3.6M83.7 641.7h3.6M89.0 633.5V662.9M87.2 633.5h3.6M87.2 662.9h3.6M87.2 648.5h3.6M92.5 627.5V657.0M90.7 627.5h3.6M90.7 657.0h3.6M90.7 642.3h3.6M96.2 623.2V649.3M94.4 623.2h3.6M94.4 649.3h3.6M94.4 636.7h3.6M99.6 616.9V638.1M97.8 616.9h3.6M97.8 638.1h3.6M97.8 627.5h3.6M102.8 611.2V631.0M101.0 611.2h3.6M101.0 631.0h3.6M101.0 621.0h3.6M106.4 609.1V628.2M104.6 609.1h3.6M104.6 628.2h3.6M104.6 618.6h3.6M109.9 607.0V624.7M108.1 607.0h3.6M108.1 624.7h3.6M108.1 615.8h3.6M113.1 602.8V618.3M111.3 602.8h3.6M111.3 618.3h3.6M111.3 610.5h3.6M117.0 605.6V619.7M115.2 605.6h3.6M115.2 619.7h3.6M115.2 612.6h3.6M120.5 605.6V620.4M118.7 605.6h3.6M118.7 620.4h3.6M118.7 613.0h3.6M123.6 615.5V632.4M121.8 615.5h3.6M121.8 632.4h3.6M121.8 624.0h3.6M127.3 621.1V639.5M125.5 621.1h3.6M125.5 639.5h3.6M125.5 630.3h3.6" stroke="#7f93ea" stroke-width="0.75" fill="none"/>
<path d="M140.0 639.5V652.0M138.0 639.5h4.0M138.0 652.0h4.0M138.0 645.8h4.0M141.7 630.1V636.5M139.7 630.1h4.0M139.7 636.5h4.0M139.7 632.9h4.0M144.7 630.2V635.7M142.7 630.2h4.0M142.7 635.7h4.0M142.7 633.7h4.0M147.1 629.9V635.8M145.1 629.9h4.0M145.1 635.8h4.0M145.1 632.2h4.0M149.3 629.1V636.0M147.3 629.1h4.0M147.3 636.0h4.0M147.3 631.8h4.0M151.9 628.2V635.2M149.9 628.2h4.0M149.9 635.2h4.0M149.9 632.0h4.0M152.5 629.8V634.6M150.5 629.8h4.0M150.5 634.6h4.0M150.5 632.2h4.0M153.1 628.8V640.8M151.1 628.8h4.0M151.1 640.8h4.0M151.1 634.9h4.0M156.0 625.6V637.6M154.0 625.6h4.0M154.0 637.6h4.0M154.0 631.3h4.0M158.3 622.8V630.3M156.3 622.8h4.0M156.3 630.3h4.0M156.3 626.6h4.0M158.2 625.2V629.5M156.2 625.2h4.0M156.2 629.5h4.0M156.2 627.4h4.0M160.6 620.5V628.7M158.6 620.5h4.0M158.6 628.7h4.0M158.6 624.6h4.0M159.9 622.8V627.7M157.9 622.8h4.0M157.9 627.7h4.0M157.9 625.3h4.0M163.1 619.9V626.7M161.1 619.9h4.0M161.1 626.7h4.0M161.1 624.6h4.0M162.4 621.5V626.1M160.4 621.5h4.0M160.4 626.1h4.0M160.4 623.8h4.0M165.6 617.4V624.7M163.6 617.4h4.0M163.6 624.7h4.0M163.6 620.7h4.0M165.8 615.1V621.9M163.8 615.1h4.0M163.8 621.9h4.0M163.8 619.5h4.0M165.9 614.2V621.4M163.9 614.2h4.0M163.9 621.4h4.0M163.9 617.8h4.0M168.4 612.0V621.2M166.4 612.0h4.0M166.4 621.2h4.0M166.4 618.2h4.0M167.7 613.6V620.2M165.7 613.6h4.0M165.7 620.2h4.0M165.7 616.9h4.0M171.1 611.2V622.5M169.1 611.2h4.0M169.1 622.5h4.0M169.1 615.9h4.0M173.5 611.1V620.7M171.5 611.1h4.0M171.5 620.7h4.0M171.5 617.6h4.0M173.8 614.8V621.3M171.8 614.8h4.0M171.8 621.3h4.0M171.8 618.0h4.0M174.9 606.3V621.4M172.9 606.3h4.0M172.9 621.4h4.0M172.9 614.6h4.0M174.4 610.6V620.4M172.4 610.6h4.0M172.4 620.4h4.0M172.4 615.5h4.0M177.1 607.9V620.2M175.1 607.9h4.0M175.1 620.2h4.0M175.1 614.2h4.0M177.8 610.7V619.1M175.8 610.7h4.0M175.8 619.1h4.0M175.8 614.9h4.0M179.4 608.0V619.6M177.4 608.0h4.0M177.4 619.6h4.0M177.4 611.8h4.0M179.5 610.1V619.7M177.5 610.1h4.0M177.5 619.7h4.0M177.5 614.9h4.0M181.5 605.3V620.3M179.5 605.3h4.0M179.5 620.3h4.0M179.5 611.8h4.0M182.1 607.2V616.1M180.1 607.2h4.0M180.1 616.1h4.0M180.1 611.6h4.0M183.8 606.0V620.9M181.8 606.0h4.0M181.8 620.9h4.0M181.8 613.0h4.0M184.4 607.9V614.8M182.4 607.9h4.0M182.4 614.8h4.0M182.4 611.4h4.0M186.6 607.3V619.4M184.6 607.3h4.0M184.6 619.4h4.0M184.6 613.0h4.0M186.2 609.9V617.4M184.2 609.9h4.0M184.2 617.4h4.0M184.2 613.7h4.0M188.9 605.2V619.9M186.9 605.2h4.0M186.9 619.9h4.0M186.9 610.3h4.0M189.0 606.3V614.8M187.0 606.3h4.0M187.0 614.8h4.0M187.0 610.5h4.0M192.1 605.5V620.1M190.1 605.5h4.0M190.1 620.1h4.0M190.1 611.5h4.0M191.8 611.1V617.0M189.8 611.1h4.0M189.8 617.0h4.0M189.8 614.1h4.0M194.5 608.1V618.9M192.5 608.1h4.0M192.5 618.9h4.0M192.5 614.4h4.0M194.9 612.6V623.2M192.9 612.6h4.0M192.9 623.2h4.0M192.9 619.5h4.0M194.9 616.6V624.2M192.9 616.6h4.0M192.9 624.2h4.0M192.9 620.4h4.0M197.6 615.6V624.2M195.6 615.6h4.0M195.6 624.2h4.0M195.6 618.4h4.0M197.4 617.5V624.5M195.4 617.5h4.0M195.4 624.5h4.0M195.4 621.0h4.0M200.6 616.3V626.1M198.6 616.3h4.0M198.6 626.1h4.0M198.6 621.9h4.0M202.5 617.9V626.2M200.5 617.9h4.0M200.5 626.2h4.0M200.5 620.8h4.0M202.6 619.0V625.6M200.6 619.0h4.0M200.6 625.6h4.0M200.6 622.3h4.0M205.7 618.2V627.6M203.7 618.2h4.0M203.7 627.6h4.0M203.7 624.1h4.0M206.0 618.0V623.9M204.0 618.0h4.0M204.0 623.9h4.0M204.0 620.9h4.0" stroke="#7f93ea" stroke-width="0.75" fill="none"/>
<path d="M234.9 628.4V634.8M232.9 628.4h4.0M232.9 634.8h4.0M232.9 630.8h4.0M237.7 627.5V634.2M235.7 627.5h4.0M235.7 634.2h4.0M235.7 630.9h4.0M238.4 628.8V633.7M236.4 628.8h4.0M236.4 633.7h4.0M236.4 631.2h4.0M240.4 628.1V634.9M238.4 628.1h4.0M238.4 634.9h4.0M238.4 631.4h4.0M243.2 626.4V634.9M241.2 626.4h4.0M241.2 634.9h4.0M241.2 630.5h4.0M246.0 626.2V633.5M244.0 626.2h4.0M244.0 633.5h4.0M244.0 630.6h4.0M246.3 628.1V631.4M244.3 628.1h4.0M244.3 631.4h4.0M244.3 629.7h4.0M247.2 624.2V632.6M245.2 624.2h4.0M245.2 632.6h4.0M245.2 627.6h4.0M249.3 624.3V632.0M247.3 624.3h4.0M247.3 632.0h4.0M247.3 629.1h4.0M251.7 622.8V631.5M249.7 622.8h4.0M249.7 631.5h4.0M249.7 626.8h4.0M251.4 625.1V629.3M249.4 625.1h4.0M249.4 629.3h4.0M249.4 627.2h4.0M254.8 621.8V630.2M252.8 621.8h4.0M252.8 630.2h4.0M252.8 626.3h4.0M254.4 624.4V631.2M252.4 624.4h4.0M252.4 631.2h4.0M252.4 627.8h4.0M257.3 620.1V628.2M255.3 620.1h4.0M255.3 628.2h4.0M255.3 625.3h4.0M260.7 619.4V627.9M258.7 619.4h4.0M258.7 627.9h4.0M258.7 622.5h4.0M259.9 622.4V626.1M257.9 622.4h4.0M257.9 626.1h4.0M257.9 624.3h4.0M262.6 618.7V627.3M260.6 618.7h4.0M260.6 627.3h4.0M260.6 623.3h4.0M262.2 618.7V624.4M260.2 618.7h4.0M260.2 624.4h4.0M260.2 621.6h4.0M265.1 617.2V626.6M263.1 617.2h4.0M263.1 626.6h4.0M263.1 621.9h4.0M265.2 618.1V624.3M263.2 618.1h4.0M263.2 624.3h4.0M263.2 621.2h4.0M265.0 616.0V625.9M263.0 616.0h4.0M263.0 625.9h4.0M263.0 621.8h4.0M265.2 619.6V623.9M263.2 619.6h4.0M263.2 623.9h4.0M263.2 621.8h4.0M267.5 615.8V625.6M265.5 615.8h4.0M265.5 625.6h4.0M265.5 621.1h4.0M267.5 618.6V622.1M265.5 618.6h4.0M265.5 622.1h4.0M265.5 620.4h4.0M270.7 615.4V624.3M268.7 615.4h4.0M268.7 624.3h4.0M268.7 620.5h4.0M270.6 615.3V622.8M268.6 615.3h4.0M268.6 622.8h4.0M268.6 619.1h4.0M272.9 614.3V624.8M270.9 614.3h4.0M270.9 624.8h4.0M270.9 619.9h4.0M273.0 617.7V623.4M271.0 617.7h4.0M271.0 623.4h4.0M271.0 620.6h4.0M275.8 613.5V622.6M273.8 613.5h4.0M273.8 622.6h4.0M273.8 617.3h4.0M276.0 616.4V624.6M274.0 616.4h4.0M274.0 624.6h4.0M274.0 620.5h4.0M278.6 614.3V623.7M276.6 614.3h4.0M276.6 623.7h4.0M276.6 618.9h4.0M279.0 615.7V622.1M277.0 615.7h4.0M277.0 622.1h4.0M277.0 618.9h4.0M281.2 614.2V622.5M279.2 614.2h4.0M279.2 622.5h4.0M279.2 617.4h4.0M283.7 612.9V623.6M281.7 612.9h4.0M281.7 623.6h4.0M281.7 617.1h4.0M285.2 611.4V618.6M283.2 611.4h4.0M283.2 618.6h4.0M283.2 614.4h4.0M285.6 615.1V618.6M283.6 615.1h4.0M283.6 618.6h4.0M283.6 616.9h4.0M287.7 610.0V619.4M285.7 610.0h4.0M285.7 619.4h4.0M285.7 614.4h4.0M287.6 611.7V614.9M285.6 611.7h4.0M285.6 614.9h4.0M285.6 613.3h4.0M289.9 611.4V619.7M287.9 611.4h4.0M287.9 619.7h4.0M287.9 615.7h4.0M290.3 613.8V617.8M288.3 613.8h4.0M288.3 617.8h4.0M288.3 615.8h4.0M292.7 610.8V618.6M290.7 610.8h4.0M290.7 618.6h4.0M290.7 616.0h4.0M295.4 611.7V618.7M293.4 611.7h4.0M293.4 618.7h4.0M293.4 615.9h4.0M298.1 610.7V618.5M296.1 610.7h4.0M296.1 618.5h4.0M296.1 614.7h4.0M283.0 605.0V630.0M281.0 605.0h4.0M281.0 630.0h4.0M281.0 617.5h4.0M300.8 605.2V620.4M298.8 605.2h4.0M298.8 620.4h4.0M298.8 612.8h4.0M305.0 605.2V624.7M303.0 605.2h4.0M303.0 624.7h4.0M303.0 615.0h4.0M308.4 611.1V625.5M306.4 611.1h4.0M306.4 625.5h4.0M306.4 618.3h4.0M311.0 619.6V634.0M309.0 619.6h4.0M309.0 634.0h4.0M309.0 626.8h4.0M314.4 606.9V628.9M312.4 606.9h4.0M312.4 628.9h4.0M312.4 617.9h4.0M316.9 628.0V643.3M314.9 628.0h4.0M314.9 643.3h4.0M314.9 635.6h4.0" stroke="#7f93ea" stroke-width="0.75" fill="none"/>
<path d="M155.0 674.1V684.8M153.0 674.1h4.0M153.0 684.8h4.0M153.0 679.3h4.0M155.6 678.1V683.8M153.6 678.1h4.0M153.6 683.8h4.0M153.6 680.9h4.0M157.4 673.3V684.3M155.4 673.3h4.0M155.4 684.3h4.0M155.4 679.0h4.0M160.2 667.0V680.0M158.2 667.0h4.0M158.2 680.0h4.0M158.2 671.9h4.0M163.0 667.4V679.6M161.0 667.4h4.0M161.0 679.6h4.0M161.0 673.3h4.0M165.8 662.7V675.6M163.8 662.7h4.0M163.8 675.6h4.0M163.8 668.1h4.0M167.7 664.2V675.3M165.7 664.2h4.0M165.7 675.3h4.0M165.7 671.2h4.0M167.5 663.5V669.4M165.5 663.5h4.0M165.5 669.4h4.0M165.5 666.5h4.0M169.9 658.8V669.4M167.9 658.8h4.0M167.9 669.4h4.0M167.9 662.5h4.0M170.5 663.8V668.6M168.5 663.8h4.0M168.5 668.6h4.0M168.5 666.2h4.0M172.7 658.7V669.3M170.7 658.7h4.0M170.7 669.3h4.0M170.7 665.7h4.0M173.2 658.4V665.7M171.2 658.4h4.0M171.2 665.7h4.0M171.2 662.1h4.0M175.7 657.3V669.1M173.7 657.3h4.0M173.7 669.1h4.0M173.7 661.6h4.0M176.1 658.7V664.3M174.1 658.7h4.0M174.1 664.3h4.0M174.1 661.5h4.0M179.0 657.0V667.8M177.0 657.0h4.0M177.0 667.8h4.0M177.0 662.8h4.0M178.5 657.3V665.6M176.5 657.3h4.0M176.5 665.6h4.0M176.5 661.4h4.0M179.8 655.0V667.1M177.8 655.0h4.0M177.8 667.1h4.0M177.8 659.5h4.0M182.6 656.6V666.2M180.6 656.6h4.0M180.6 666.2h4.0M180.6 662.1h4.0M182.3 660.6V664.9M180.3 660.6h4.0M180.3 664.9h4.0M180.3 662.8h4.0M185.3 655.9V665.5M183.3 655.9h4.0M183.3 665.5h4.0M183.3 661.8h4.0M185.2 656.5V664.1M183.2 656.5h4.0M183.2 664.1h4.0M183.2 660.3h4.0M188.0 656.6V666.9M186.0 656.6h4.0M186.0 666.9h4.0M186.0 661.9h4.0M187.6 660.2V667.2M185.6 660.2h4.0M185.6 667.2h4.0M185.6 663.7h4.0M190.3 656.0V667.9M188.3 656.0h4.0M188.3 667.9h4.0M188.3 661.1h4.0M193.2 656.0V667.1M191.2 656.0h4.0M191.2 667.1h4.0M191.2 661.0h4.0M192.8 655.8V663.9M190.8 655.8h4.0M190.8 663.9h4.0M190.8 659.9h4.0M195.3 660.3V672.9M193.3 660.3h4.0M193.3 672.9h4.0M193.3 664.8h4.0M195.4 662.5V667.8M193.4 662.5h4.0M193.4 667.8h4.0M193.4 665.1h4.0M197.2 664.2V673.7M195.2 664.2h4.0M195.2 673.7h4.0M195.2 669.0h4.0M199.7 664.6V676.4M197.7 664.6h4.0M197.7 676.4h4.0M197.7 669.4h4.0M202.3 668.0V676.6M200.3 668.0h4.0M200.3 676.6h4.0M200.3 670.3h4.0M202.4 669.5V676.8M200.4 669.5h4.0M200.4 676.8h4.0M200.4 673.2h4.0M204.7 667.2V679.8M202.7 667.2h4.0M202.7 679.8h4.0M202.7 671.4h4.0M207.1 669.5V681.6M205.1 669.5h4.0M205.1 681.6h4.0M205.1 674.2h4.0" stroke="#8d58f2" stroke-width="0.75" fill="none"/>
<path d="M233.0 683.4V688.2M231.0 683.4h4.0M231.0 688.2h4.0M231.0 685.7h4.0M233.0 682.6V685.8M231.0 682.6h4.0M231.0 685.8h4.0M231.0 684.2h4.0M235.1 682.1V687.3M233.1 682.1h4.0M233.1 687.3h4.0M233.1 685.0h4.0M236.0 683.1V685.6M234.0 683.1h4.0M234.0 685.6h4.0M234.0 684.4h4.0M238.0 682.1V687.1M236.0 682.1h4.0M236.0 687.1h4.0M236.0 684.4h4.0M239.7 682.0V686.9M237.7 682.0h4.0M237.7 686.9h4.0M237.7 684.8h4.0M239.9 680.9V685.8M237.9 680.9h4.0M237.9 685.8h4.0M237.9 682.9h4.0M240.4 682.6V685.5M238.4 682.6h4.0M238.4 685.5h4.0M238.4 684.1h4.0M241.9 679.7V685.2M239.9 679.7h4.0M239.9 685.2h4.0M239.9 683.2h4.0M241.4 681.8V683.9M239.4 681.8h4.0M239.4 683.9h4.0M239.4 682.8h4.0M244.2 679.9V683.6M242.2 679.9h4.0M242.2 683.6h4.0M242.2 682.2h4.0M243.5 679.4V682.4M241.5 679.4h4.0M241.5 682.4h4.0M241.5 680.9h4.0M246.4 678.7V683.3M244.4 678.7h4.0M244.4 683.3h4.0M244.4 680.3h4.0M247.9 678.6V682.3M245.9 678.6h4.0M245.9 682.3h4.0M245.9 680.7h4.0M249.9 676.5V680.3M247.9 676.5h4.0M247.9 680.3h4.0M247.9 678.1h4.0M252.3 675.6V679.4M250.3 675.6h4.0M250.3 679.4h4.0M250.3 677.6h4.0M252.1 675.7V678.4M250.1 675.7h4.0M250.1 678.4h4.0M250.1 677.0h4.0M254.4 674.0V678.0M252.4 674.0h4.0M252.4 678.0h4.0M252.4 676.6h4.0M256.5 673.1V677.2M254.5 673.1h4.0M254.5 677.2h4.0M254.5 674.4h4.0M258.7 671.4V676.0M256.7 671.4h4.0M256.7 676.0h4.0M256.7 672.8h4.0M260.0 669.3V673.9M258.0 669.3h4.0M258.0 673.9h4.0M258.0 672.6h4.0M260.0 671.0V674.5M258.0 671.0h4.0M258.0 674.5h4.0M258.0 672.7h4.0M262.5 666.9V672.7M260.5 666.9h4.0M260.5 672.7h4.0M260.5 670.2h4.0M264.6 665.1V671.2M262.6 665.1h4.0M262.6 671.2h4.0M262.6 667.8h4.0M266.9 663.8V670.2M264.9 663.8h4.0M264.9 670.2h4.0M264.9 666.6h4.0M268.9 662.9V668.1M266.9 662.9h4.0M266.9 668.1h4.0M266.9 666.2h4.0M270.1 660.9V666.0M268.1 660.9h4.0M268.1 666.0h4.0M268.1 663.4h4.0M270.0 661.0V664.2M268.0 661.0h4.0M268.0 664.2h4.0M268.0 662.6h4.0M272.6 659.8V665.3M270.6 659.8h4.0M270.6 665.3h4.0M270.6 662.2h4.0M274.9 660.2V665.1M272.9 660.2h4.0M272.9 665.1h4.0M272.9 662.4h4.0M275.4 660.1V663.7M273.4 660.1h4.0M273.4 663.7h4.0M273.4 661.9h4.0M277.4 658.7V664.9M275.4 658.7h4.0M275.4 664.9h4.0M275.4 660.9h4.0M277.6 660.1V662.6M275.6 660.1h4.0M275.6 662.6h4.0M275.6 661.4h4.0M279.6 658.3V664.1M277.6 658.3h4.0M277.6 664.1h4.0M277.6 660.5h4.0M279.4 660.0V662.8M277.4 660.0h4.0M277.4 662.8h4.0M277.4 661.4h4.0M282.1 658.2V665.0M280.1 658.2h4.0M280.1 665.0h4.0M280.1 661.8h4.0M282.3 658.2V662.8M280.3 658.2h4.0M280.3 662.8h4.0M280.3 660.5h4.0M283.0 659.5V665.6M281.0 659.5h4.0M281.0 665.6h4.0M281.0 662.9h4.0M282.6 661.0V663.9M280.6 661.0h4.0M280.6 663.9h4.0M280.6 662.4h4.0M285.3 659.3V666.1M283.3 659.3h4.0M283.3 666.1h4.0M283.3 662.2h4.0M285.3 662.1V666.4M283.3 662.1h4.0M283.3 666.4h4.0M283.3 664.3h4.0M287.4 660.2V667.2M285.4 660.2h4.0M285.4 667.2h4.0M285.4 664.6h4.0M290.0 660.9V666.3M288.0 660.9h4.0M288.0 666.3h4.0M288.0 664.5h4.0M289.5 660.8V665.7M287.5 660.8h4.0M287.5 665.7h4.0M287.5 663.2h4.0M292.1 659.7V667.4M290.1 659.7h4.0M290.1 667.4h4.0M290.1 664.0h4.0M294.3 660.7V667.0M292.3 660.7h4.0M292.3 667.0h4.0M292.3 663.1h4.0M294.3 662.9V667.3M292.3 662.9h4.0M292.3 667.3h4.0M292.3 665.1h4.0M296.6 660.8V666.6M294.6 660.8h4.0M294.6 666.6h4.0M294.6 663.8h4.0M296.7 661.9V667.3M294.7 661.9h4.0M294.7 667.3h4.0M294.7 664.6h4.0M298.4 660.5V666.9M296.4 660.5h4.0M296.4 666.9h4.0M296.4 664.6h4.0M298.7 662.8V667.6M296.7 662.8h4.0M296.7 667.6h4.0M296.7 665.2h4.0M300.8 656.1V668.0M298.8 656.1h4.0M298.8 668.0h4.0M298.8 662.0h4.0M304.2 663.7V676.4M302.2 663.7h4.0M302.2 676.4h4.0M302.2 670.0h4.0M306.7 645.9V676.4M304.7 645.9h4.0M304.7 676.4h4.0M304.7 661.1h4.0M309.3 664.6V676.4M307.3 664.6h4.0M307.3 676.4h4.0M307.3 670.5h4.0M313.5 668.0V688.3M311.5 668.0h4.0M311.5 688.3h4.0M311.5 678.1h4.0M315.2 675.6V685.8M313.2 675.6h4.0M313.2 685.8h4.0M313.2 680.7h4.0M316.9 669.7V698.5M314.9 669.7h4.0M314.9 698.5h4.0M314.9 684.1h4.0" stroke="#8d58f2" stroke-width="0.75" fill="none"/>
<path d="M50.8 731.2V749.3M49.0 731.2h3.6M49.0 749.3h3.6M49.0 740.1h3.6M60.7 733.1V752.1M58.9 733.1h3.6M58.9 752.1h3.6M58.9 743.0h3.6M66.3 713.3V745.4M64.5 713.3h3.6M64.5 745.4h3.6M64.5 729.3h3.6M76.9 735.2V743.7M75.1 735.2h3.6M75.1 743.7h3.6M75.1 739.4h3.6M87.9 725.3V734.5M86.1 725.3h3.6M86.1 734.5h3.6M86.1 729.5h3.6M91.7 723.9V732.4M89.9 723.9h3.6M89.9 732.4h3.6M89.9 728.1h3.6M88.7 727.4V734.4M86.9 727.4h3.6M86.9 734.4h3.6M86.9 730.9h3.6M92.9 723.1V732.3M91.1 723.1h3.6M91.1 732.3h3.6M91.1 727.7h3.6M98.6 722.4V731.6M96.8 722.4h3.6M96.8 731.6h3.6M96.8 727.0h3.6M103.5 722.4V733.7M101.7 722.4h3.6M101.7 733.7h3.6M101.7 728.0h3.6M108.9 712.5V720.3M107.1 712.5h3.6M107.1 720.3h3.6M107.1 716.4h3.6M114.1 713.2V717.5M112.3 713.2h3.6M112.3 717.5h3.6M112.3 715.4h3.6M119.8 703.4V710.4M118.0 703.4h3.6M118.0 710.4h3.6M118.0 706.9h3.6M125.0 728.8V740.1M123.2 728.8h3.6M123.2 740.1h3.6M123.2 734.5h3.6" stroke="#6d9b5e" stroke-width="0.75" fill="none"/>
<path d="M159.8 732.4V740.1M158.2 732.4h3.2M158.2 740.1h3.2M158.2 736.2h3.2M162.5 726.0V734.0M160.9 726.0h3.2M160.9 734.0h3.2M160.9 730.0h3.2M165.0 721.8V731.6M163.4 721.8h3.2M163.4 731.6h3.2M163.4 726.7h3.2M167.5 719.0V727.0M165.9 719.0h3.2M165.9 727.0h3.2M165.9 723.0h3.2M170.0 720.0V728.0M168.4 720.0h3.2M168.4 728.0h3.2M168.4 724.0h3.2M172.5 714.0V722.0M170.9 714.0h3.2M170.9 722.0h3.2M170.9 718.0h3.2M175.0 711.0V720.0M173.4 711.0h3.2M173.4 720.0h3.2M173.4 715.5h3.2M177.5 712.0V719.0M175.9 712.0h3.2M175.9 719.0h3.2M175.9 715.5h3.2M180.0 710.0V718.0M178.4 710.0h3.2M178.4 718.0h3.2M178.4 714.0h3.2M182.5 708.0V716.0M180.9 708.0h3.2M180.9 716.0h3.2M180.9 712.0h3.2M185.0 710.0V717.0M183.4 710.0h3.2M183.4 717.0h3.2M183.4 713.5h3.2M187.0 707.0V713.0M185.4 707.0h3.2M185.4 713.0h3.2M185.4 710.0h3.2M189.0 705.0V712.0M187.4 705.0h3.2M187.4 712.0h3.2M187.4 708.5h3.2M191.0 707.0V714.0M189.4 707.0h3.2M189.4 714.0h3.2M189.4 710.5h3.2M193.0 708.0V716.0M191.4 708.0h3.2M191.4 716.0h3.2M191.4 712.0h3.2M196.0 713.3V717.5M194.4 713.3h3.2M194.4 717.5h3.2M194.4 715.4h3.2M198.5 720.4V724.6M196.9 720.4h3.2M196.9 724.6h3.2M196.9 722.5h3.2M201.0 726.0V732.4M199.4 726.0h3.2M199.4 732.4h3.2M199.4 729.2h3.2M203.0 729.0V733.0M201.4 729.0h3.2M201.4 733.0h3.2M201.4 731.0h3.2M205.0 734.5V738.0M203.4 734.5h3.2M203.4 738.0h3.2M203.4 736.2h3.2M208.0 736.6V741.6M206.4 736.6h3.2M206.4 741.6h3.2M206.4 739.1h3.2" stroke="#6d9b5e" stroke-width="0.7" fill="none"/>
<polyline points="241.7,743.9 242.1,733.0 242.6,745.7 243.0,746.6 243.5,732.4 243.9,736.9 244.4,743.8 244.8,732.5 245.3,742.9 245.7,733.6 246.2,746.3 246.6,744.3 247.1,742.7 247.5,742.2 248.0,741.3 248.4,735.0 248.9,729.3 249.3,730.2 249.8,742.5 250.2,738.4 250.7,732.0 251.1,728.6 251.6,738.3 252.0,729.6 252.5,735.2 252.9,734.3 253.4,741.7 253.8,728.9 254.3,735.5 254.7,727.9 255.2,726.8 255.6,728.6 256.1,738.6 256.5,730.1 257.0,728.4 257.4,721.9 257.9,722.9 258.3,727.5 258.8,726.3 259.2,733.3 259.7,727.5 260.1,719.2 260.6,725.2 261.0,723.7 261.5,731.9 261.9,716.8 262.4,730.4 262.8,729.5 263.3,721.5 263.7,720.7 264.2,716.8 264.6,717.5 265.1,726.2 265.5,727.0 266.0,725.3 266.4,723.0 266.9,724.4 267.3,714.5 267.8,722.1 268.2,715.1 268.7,721.5 269.1,718.5 269.6,723.0 270.0,721.3 270.5,717.3 270.9,706.8 271.4,716.9 271.8,709.9 272.3,713.9 272.7,711.4 273.2,711.2 273.6,705.5 274.1,708.5 274.5,703.8 275.0,713.6 275.4,716.7 275.9,718.8 276.3,704.9 276.8,704.0 277.2,706.1 277.7,717.5 278.1,706.3 278.6,708.1 279.0,708.9 279.5,717.5 279.9,709.0 280.4,709.7 280.8,709.1 281.3,718.9 281.7,721.5 282.2,710.1 282.6,717.8 283.1,723.1 283.5,708.7 284.0,720.4 284.4,717.4 284.9,713.8 285.3,714.7 285.8,717.6 286.2,721.3 286.7,726.1 287.1,722.7 287.6,724.7 288.0,721.4 288.5,715.6 288.9,725.3 289.4,716.3 289.8,722.7 290.3,713.9 290.7,724.1 291.2,716.8 291.6,725.5 292.1,729.8 292.5,727.5 293.0,727.5 293.4,722.2 293.9,722.3 294.3,731.7 294.8,727.9 295.2,720.5 295.7,726.1 296.1,717.6 296.6,726.8 297.0,719.9 297.5,726.4 297.9,733.6 298.4,723.8 298.8,733.8 299.3,723.0 299.7,726.2 300.2,727.5 300.6,734.6 301.1,727.7 301.5,734.9 302.0,739.2 302.4,728.8 302.9,743.0 303.3,730.8 303.8,733.6 304.2,741.1 304.7,744.3 305.1,731.3 305.6,745.7 306.0,734.7 306.5,733.5 306.9,744.9 307.4,738.5 307.8,739.8 308.3,742.6 308.7,732.1 309.2,743.2 309.6,742.0 310.1,745.6 310.5,744.6 311.0,744.9 311.4,746.7 311.9,741.8 312.3,738.9 312.8,746.6 313.2,742.6 313.7,748.3 314.1,734.6 314.6,738.6 315.0,733.5 315.5,744.9 315.9,737.5 316.4,738.2 316.8,739.2 317.3,734.7 317.7,738.9 318.2,747.9" fill="none" stroke="#3f8030" stroke-width="0.7" stroke-linejoin="round" stroke-linecap="round" opacity="0.8"/>
<polyline points="241.7,743.2 242.5,741.9 243.3,741.0 244.1,736.7 244.9,741.9 245.7,735.8 246.5,737.2 247.3,735.3 248.1,735.6 248.9,739.8 249.7,737.0 250.5,737.2 251.3,739.6 252.1,732.1 252.9,733.2 253.7,735.1 254.5,730.2 255.3,735.1 256.1,728.9 256.9,733.2 257.7,730.4 258.5,727.4 259.3,729.2 260.1,724.2 260.9,721.3 261.7,724.4 262.5,722.9 263.3,718.4 264.1,718.1 264.9,722.3 265.7,719.3 266.5,717.8 267.3,715.4 268.1,715.0 268.9,713.6 269.7,713.7 270.5,714.4 271.3,715.4 272.1,716.2 272.9,713.6 273.7,712.2 274.5,713.1 275.3,708.4 276.1,712.3 276.9,707.8 277.7,708.3 278.5,715.4 279.3,711.5 280.1,712.3 280.9,711.3 281.7,711.4 282.5,717.3 283.3,717.8 284.1,719.2 284.9,719.0 285.7,715.0 286.5,719.0 287.3,724.0 288.1,721.5 288.9,720.0 289.7,719.8 290.5,724.4 291.3,724.6 292.1,723.2 292.9,720.5 293.7,721.4 294.5,728.0 295.3,723.3 296.1,728.4 296.9,728.3 297.7,724.6 298.5,725.7 299.3,729.8 300.1,726.3 300.9,730.9 301.7,733.1 302.5,737.2 303.3,735.0 304.1,740.8 304.9,739.4 305.7,742.3 306.5,737.2 307.3,740.5 308.1,737.6 308.9,742.2 309.7,736.0 310.5,742.3 311.3,741.5 312.1,741.1 312.9,738.3 313.7,738.9 314.5,742.1 315.3,741.0 316.1,742.4 316.9,740.4 317.7,739.8 318.5,740.6" fill="none" stroke="#3a7a28" stroke-width="0.9" stroke-linejoin="round" stroke-linecap="round" opacity="0.9"/>
<polyline points="43.0,600.9 43.7,600.2 44.4,598.8 45.1,598.1 45.8,597.4 46.5,597.5 47.2,598.8 47.9,597.8 48.6,596.7 49.7,596.6 50.8,597.4 51.5,596.8 52.2,596.0 53.6,595.3 54.3,595.3 55.0,593.8 56.4,593.1 57.1,592.5 57.8,591.7 59.2,591.0 60.0,590.6 60.7,591.7 62.1,591.7 63.5,591.0 64.9,590.3 65.6,589.1 66.3,588.9 67.0,588.8 67.7,587.5 68.4,586.2 69.1,586.1 70.5,585.4 71.2,584.5 72.0,584.0 73.4,583.2 74.8,582.5 76.2,583.2 76.9,581.8 77.6,581.8 79.0,581.1 79.5,581.9 80.0,583.2 80.5,583.7 81.1,584.7 82.5,585.4 83.2,585.8 84.0,584.7 85.4,585.4 86.8,584.7 87.5,584.6 88.2,583.2 89.6,582.5 91.0,583.0 92.1,584.0 92.8,582.7 93.5,582.6 94.0,582.1 94.4,580.3 94.9,579.8 95.6,578.9 96.4,578.0 97.1,577.0 97.8,576.1 98.5,575.2 99.2,574.1 99.9,573.3 100.6,572.6 101.3,572.0 102.3,571.1 103.4,570.6 104.5,569.8 105.5,569.9 106.6,569.1 107.7,569.2 108.4,567.7 109.1,567.8 109.8,567.0 110.5,565.7 111.2,565.6 111.9,564.2 113.3,563.5 114.0,564.9 114.7,564.7 115.4,564.5 116.1,563.5 117.5,562.8 118.6,562.8 119.7,562.1 120.4,563.2 121.1,563.5 121.4,565.1 121.8,565.2 122.2,566.7 122.5,567.8 122.7,568.9 122.9,569.5 123.0,572.0 123.2,572.8 123.4,574.0 123.6,574.8 123.7,576.0 123.9,576.2 124.0,578.6 124.2,578.2 124.3,580.6 124.5,580.5 124.6,581.9 125.3,583.0 126.0,584.0 126.5,585.3 127.0,585.4" fill="none" stroke="#000" stroke-width="1.45" stroke-linejoin="round" stroke-linecap="round"/>
<polyline points="139.4,595.2 140.4,594.9 141.5,593.8 142.2,593.5 142.9,591.9 143.6,591.7 144.3,591.5 145.0,590.7 145.7,589.5 146.8,589.3 147.8,588.1 148.9,588.0 150.0,587.4 151.1,587.4 152.1,586.0 153.1,585.7 154.2,584.6 154.9,584.5 155.6,583.2 156.3,582.4 157.0,581.8 157.7,580.2 158.4,579.7 159.1,579.7 159.8,578.6 160.5,577.5 161.2,577.5 162.0,576.6 162.7,575.4 163.4,575.4 164.1,574.3 164.8,573.3 165.9,572.0 166.9,571.9 167.6,571.5 168.3,570.4 169.0,569.8 170.1,569.6 171.1,568.4 172.2,567.5 173.3,567.7 174.4,567.1 175.4,566.2 176.4,565.5 177.5,565.5 178.6,564.6 179.6,564.8 180.6,564.6 181.7,564.1 182.6,564.3 183.5,563.5 184.6,562.9 185.6,563.3 186.6,563.0 187.7,562.8 188.8,563.2 189.8,563.5 190.9,563.8 191.9,563.8 192.6,565.0 193.4,564.5 194.1,565.7 194.8,566.4 195.5,566.6 196.2,567.8 196.9,569.1 197.6,570.0 198.3,570.6 199.0,571.5 199.7,571.5 200.4,572.7 201.1,573.3 201.8,574.2 202.5,574.8 203.2,575.3 204.0,576.2 204.7,577.0 205.4,577.2 206.1,578.6 206.8,579.1 207.9,579.9 208.9,580.5 209.9,581.3 211.0,581.2 212.1,581.5 213.1,581.9" fill="none" stroke="#000" stroke-width="1.2" stroke-linejoin="round" stroke-linecap="round"/>
<polyline points="234.4,577.8 235.7,577.5 236.9,578.6 238.1,578.4 239.3,579.4 240.5,579.8 241.7,578.6 242.9,577.8 244.1,577.8 245.3,576.7 246.5,577.0 247.7,576.4 248.9,577.0 249.7,576.5 250.5,575.8 251.3,575.4 252.1,575.0 253.0,573.5 253.8,573.0 255.0,571.9 256.2,571.8 257.4,571.6 258.6,570.5 259.4,569.4 260.2,569.5 261.0,568.9 261.8,568.8 262.6,567.4 263.4,567.3 264.6,566.2 265.8,566.0 267.1,565.3 268.3,564.9 269.5,563.9 270.7,564.1 271.9,564.1 273.1,563.8 274.3,563.7 275.5,563.3 276.7,564.3 277.9,564.1 279.1,563.0 280.3,563.3 281.1,563.9 282.0,563.7 282.8,564.9 284.1,565.4 285.5,564.6 286.8,564.9 288.1,564.9 289.4,565.0 290.6,565.5 291.9,565.7 293.2,565.3 294.4,565.6 295.7,565.8 297.0,565.8 298.3,566.3 299.6,566.2 300.8,566.6 301.1,567.2 301.5,569.4 301.8,569.6 302.2,569.9 302.5,571.7 303.3,572.5 304.2,572.1 305.0,573.1 306.3,573.6 307.6,573.4 308.9,573.9 310.1,573.8 311.4,573.7 312.7,574.3 313.9,575.0 315.2,574.8 316.4,574.4 317.7,575.1 318.6,575.3 319.4,575.6 320.3,576.0 321.6,576.0 322.8,576.5 324.1,577.1 325.4,577.2 326.6,577.5 327.9,578.2 328.8,578.1 329.6,579.1 330.5,579.4 331.8,579.8 333.0,580.2 333.9,581.0 334.7,581.9 335.5,582.6 336.4,583.6 337.2,583.7 338.1,584.4 339.0,584.2 339.8,582.7" fill="none" stroke="#000" stroke-width="1.45" stroke-linejoin="round" stroke-linecap="round"/>
<polyline points="43.0,648.8 43.7,648.2 44.4,646.7 45.1,646.0 45.8,645.3 46.5,645.4 47.2,646.7 47.9,645.8 48.6,644.6 49.7,644.6 50.8,645.3 51.5,644.7 52.2,643.9 53.6,643.2 54.3,643.3 55.0,641.7 56.4,641.0 57.1,640.4 57.8,639.6 59.2,638.9 60.0,638.5 60.7,639.6 62.1,639.6 63.5,638.9 64.9,638.2 65.6,637.0 66.3,636.8 67.0,636.8 67.7,635.4 68.4,634.2 69.1,634.0 70.5,633.3 71.2,632.4 72.0,631.9 73.4,631.1 74.8,630.4 76.2,631.1 76.9,629.7 77.6,629.7 79.0,629.0 79.5,629.8 80.0,631.1 80.5,631.7 81.1,632.6 82.5,633.3 83.2,633.7 84.0,632.6 85.4,633.3 86.8,632.6 87.5,632.6 88.2,631.1 89.6,630.4 91.0,630.9 92.1,631.9 92.8,630.6 93.5,630.5 94.0,630.0 94.4,628.3 94.9,627.7 95.6,626.9 96.4,625.9 97.1,624.9 97.8,624.1 98.5,623.1 99.2,622.0 99.9,621.2 100.6,620.5 101.3,619.9 102.3,619.1 103.4,618.5 104.5,617.7 105.5,617.8 106.6,617.0 107.7,617.1 108.4,615.7 109.1,615.7 109.8,615.0 110.5,613.6 111.2,613.5 111.9,612.1 113.3,611.4 114.0,612.8 114.7,612.6 115.4,612.4 116.1,611.4 117.5,610.7 118.6,610.7 119.7,610.0 120.4,611.1 121.1,611.4 121.4,613.0 121.8,613.2 122.2,614.7 122.5,615.7 122.7,616.8 122.9,617.4 123.0,619.9 123.2,620.7 123.4,621.9 123.6,622.7 123.7,624.0 123.9,624.1 124.0,626.5 124.2,626.1 124.3,628.5 124.5,628.4 124.6,629.8 125.3,630.9 126.0,631.9 126.5,633.3 127.0,633.3" fill="none" stroke="#000" stroke-width="1.45" stroke-linejoin="round" stroke-linecap="round"/>
<polyline points="139.4,643.1 140.4,642.8 141.5,641.7 142.2,641.4 142.9,639.8 143.6,639.6 144.3,639.4 145.0,638.6 145.7,637.4 146.8,637.2 147.8,636.0 148.9,636.0 150.0,635.3 151.1,635.3 152.1,633.9 153.1,633.7 154.2,632.5 154.9,632.4 155.6,631.1 156.3,630.3 157.0,629.7 157.7,628.1 158.4,627.6 159.1,627.6 159.8,626.5 160.5,625.4 161.2,625.4 162.0,624.5 162.7,623.3 163.4,623.3 164.1,622.3 164.8,621.2 165.9,619.9 166.9,619.8 167.6,619.5 168.3,618.3 169.0,617.7 170.1,617.5 171.1,616.3 172.2,615.4 173.3,615.6 174.4,615.0 175.4,614.1 176.4,613.4 177.5,613.4 178.6,612.5 179.6,612.7 180.6,612.6 181.7,612.0 182.6,612.3 183.5,611.4 184.6,610.8 185.6,611.2 186.6,610.9 187.7,610.7 188.8,611.1 189.8,611.4 190.9,611.7 191.9,611.7 192.6,613.0 193.4,612.4 194.1,613.6 194.8,614.3 195.5,614.5 196.2,615.7 196.9,617.0 197.6,617.9 198.3,618.5 199.0,619.4 199.7,619.5 200.4,620.6 201.1,621.3 201.8,622.1 202.5,622.7 203.2,623.2 204.0,624.1 204.7,624.9 205.4,625.2 206.1,626.5 206.8,627.0 207.9,627.8 208.9,628.4 209.9,629.2 211.0,629.1 212.1,629.4 213.1,629.8" fill="none" stroke="#000" stroke-width="1.2" stroke-linejoin="round" stroke-linecap="round"/>
<polyline points="234.4,625.7 235.7,625.4 236.9,626.5 238.1,626.4 239.3,627.3 240.5,627.7 241.7,626.5 242.9,625.7 244.1,625.7 245.3,624.7 246.5,624.9 247.7,624.3 248.9,624.9 249.7,624.4 250.5,623.7 251.3,623.3 252.1,622.9 253.0,621.5 253.8,620.9 255.0,619.8 256.2,619.7 257.4,619.5 258.6,618.4 259.4,617.3 260.2,617.5 261.0,616.8 261.8,616.7 262.6,615.4 263.4,615.2 264.6,614.1 265.8,613.9 267.1,613.2 268.3,612.8 269.5,611.8 270.7,612.0 271.9,612.1 273.1,611.7 274.3,611.6 275.5,611.2 276.7,612.2 277.9,612.0 279.1,610.9 280.3,611.2 281.1,611.8 282.0,611.7 282.8,612.8 284.1,613.4 285.5,612.5 286.8,612.8 288.1,612.8 289.4,612.9 290.6,613.4 291.9,613.6 293.2,613.2 294.4,613.5 295.7,613.7 297.0,613.7 298.3,614.2 299.6,614.2 300.8,614.5 301.1,615.1 301.5,617.3 301.8,617.6 302.2,617.8 302.5,619.6 303.3,620.4 304.2,620.0 305.0,621.0 306.3,621.5 307.6,621.3 308.9,621.9 310.1,621.7 311.4,621.7 312.7,622.2 313.9,622.9 315.2,622.7 316.4,622.3 317.7,623.0 318.6,623.2 319.4,623.5 320.3,623.9 321.6,624.0 322.8,624.4 324.1,625.1 325.4,625.1 326.6,625.5 327.9,626.1 328.8,626.0 329.6,627.0 330.5,627.3 331.8,627.7 333.0,628.1 333.9,628.9 334.7,629.8 335.5,630.5 336.4,631.5 337.2,631.6 338.1,632.3 339.0,632.1 339.8,630.6" fill="none" stroke="#000" stroke-width="1.45" stroke-linejoin="round" stroke-linecap="round"/>
<polyline points="43.0,696.8 43.7,696.1 44.4,694.7 45.1,694.0 45.8,693.3 46.5,693.3 47.2,694.7 47.9,693.7 48.6,692.6 49.7,692.5 50.8,693.3 51.5,692.6 52.2,691.9 53.6,691.2 54.3,691.2 55.0,689.7 56.4,689.0 57.1,688.3 57.8,687.6 59.2,686.9 60.0,686.5 60.7,687.6 62.1,687.6 63.5,686.9 64.9,686.2 65.6,684.9 66.3,684.8 67.0,684.7 67.7,683.4 68.4,682.1 69.1,682.0 70.5,681.3 71.2,680.4 72.0,679.9 73.4,679.1 74.8,678.4 76.2,679.1 76.9,677.6 77.6,677.7 79.0,677.0 79.5,677.7 80.0,679.1 80.5,679.6 81.1,680.6 82.5,681.3 83.2,681.7 84.0,680.6 85.4,681.3 86.8,680.6 87.5,680.5 88.2,679.1 89.6,678.4 91.0,678.9 92.1,679.9 92.8,678.5 93.5,678.5 94.0,678.0 94.4,676.2 94.9,675.7 95.6,674.8 96.4,673.8 97.1,672.9 97.8,672.0 98.5,671.0 99.2,670.0 99.9,669.2 100.6,668.5 101.3,667.9 102.3,667.0 103.4,666.5 104.5,665.6 105.5,665.8 106.6,664.9 107.7,665.1 108.4,663.6 109.1,663.7 109.8,662.9 110.5,661.6 111.2,661.5 111.9,660.1 113.3,659.4 114.0,660.7 114.7,660.6 115.4,660.3 116.1,659.4 117.5,658.7 118.6,658.6 119.7,658.0 120.4,659.0 121.1,659.4 121.4,660.9 121.8,661.1 122.2,662.6 122.5,663.7 122.7,664.7 122.9,665.3 123.0,667.8 123.2,668.6 123.4,669.9 123.6,670.7 123.7,671.9 123.9,672.1 124.0,674.5 124.2,674.0 124.3,676.4 124.5,676.4 124.6,677.8 125.3,678.8 126.0,679.9 126.5,681.2 127.0,681.3" fill="none" stroke="#000" stroke-width="1.45" stroke-linejoin="round" stroke-linecap="round"/>
<polyline points="139.4,691.1 140.4,690.7 141.5,689.7 142.2,689.4 142.9,687.8 143.6,687.6 144.3,687.4 145.0,686.6 145.7,685.4 146.8,685.1 147.8,684.0 148.9,683.9 150.0,683.3 151.1,683.2 152.1,681.9 153.1,681.6 154.2,680.5 154.9,680.3 155.6,679.1 156.3,678.2 157.0,677.7 157.7,676.0 158.4,675.6 159.1,675.5 159.8,674.4 160.5,673.4 161.2,673.3 162.0,672.4 162.7,671.3 163.4,671.2 164.1,670.2 164.8,669.2 165.9,667.9 166.9,667.8 167.6,667.4 168.3,666.3 169.0,665.7 170.1,665.4 171.1,664.3 172.2,663.3 173.3,663.6 174.4,662.9 175.4,662.1 176.4,661.3 177.5,661.4 178.6,660.4 179.6,660.7 180.6,660.5 181.7,660.0 182.6,660.2 183.5,659.4 184.6,658.7 185.6,659.2 186.6,658.8 187.7,658.7 188.8,659.1 189.8,659.4 190.9,659.7 191.9,659.7 192.6,660.9 193.4,660.4 194.1,661.6 194.8,662.2 195.5,662.4 196.2,663.7 196.9,665.0 197.6,665.9 198.3,666.5 199.0,667.4 199.7,667.4 200.4,668.6 201.1,669.2 201.8,670.1 202.5,670.7 203.2,671.2 204.0,672.0 204.7,672.9 205.4,673.1 206.1,674.5 206.8,675.0 207.9,675.7 208.9,676.4 209.9,677.2 211.0,677.1 212.1,677.3 213.1,677.8" fill="none" stroke="#000" stroke-width="1.2" stroke-linejoin="round" stroke-linecap="round"/>
<polyline points="234.4,673.7 235.7,673.3 236.9,674.5 238.1,674.3 239.3,675.3 240.5,675.6 241.7,674.5 242.9,673.7 244.1,673.7 245.3,672.6 246.5,672.9 247.7,672.2 248.9,672.9 249.7,672.4 250.5,671.6 251.3,671.3 252.1,670.8 253.0,669.4 253.8,668.9 255.0,667.7 256.2,667.7 257.4,667.4 258.6,666.4 259.4,665.3 260.2,665.4 261.0,664.8 261.8,664.7 262.6,663.3 263.4,663.2 264.6,662.0 265.8,661.9 267.1,661.2 268.3,660.8 269.5,659.8 270.7,660.0 271.9,660.0 273.1,659.7 274.3,659.5 275.5,659.2 276.7,660.1 277.9,660.0 279.1,658.8 280.3,659.2 281.1,659.7 282.0,659.6 282.8,660.8 284.1,661.3 285.5,660.5 286.8,660.8 288.1,660.8 289.4,660.9 290.6,661.4 291.9,661.5 293.2,661.2 294.4,661.4 295.7,661.7 297.0,661.7 298.3,662.2 299.6,662.1 300.8,662.5 301.1,663.0 301.5,665.2 301.8,665.5 302.2,665.7 302.5,667.6 303.3,668.3 304.2,668.0 305.0,669.0 306.3,669.5 307.6,669.3 308.9,669.8 310.1,669.7 311.4,669.6 312.7,670.2 313.9,670.8 315.2,670.7 316.4,670.3 317.7,671.0 318.6,671.1 319.4,671.4 320.3,671.9 321.6,671.9 322.8,672.4 324.1,673.0 325.4,673.1 326.6,673.4 327.9,674.1 328.8,673.9 329.6,674.9 330.5,675.3 331.8,675.6 333.0,676.1 333.9,676.8 334.7,677.8 335.5,678.4 336.4,679.5 337.2,679.5 338.1,680.3 339.0,680.0 339.8,678.6" fill="none" stroke="#000" stroke-width="1.45" stroke-linejoin="round" stroke-linecap="round"/>
<polyline points="43.0,744.7 43.7,744.0 44.4,742.6 45.1,741.9 45.8,741.2 46.5,741.3 47.2,742.6 47.9,741.6 48.6,740.5 49.7,740.4 50.8,741.2 51.5,740.5 52.2,739.8 53.6,739.1 54.3,739.1 55.0,737.6 56.4,736.9 57.1,736.3 57.8,735.5 59.2,734.8 60.0,734.4 60.7,735.5 62.1,735.5 63.5,734.8 64.9,734.1 65.6,732.9 66.3,732.7 67.0,732.6 67.7,731.3 68.4,730.0 69.1,729.9 70.5,729.2 71.2,728.3 72.0,727.8 73.4,727.0 74.8,726.3 76.2,727.0 76.9,725.6 77.6,725.6 79.0,724.9 79.5,725.7 80.0,727.0 80.5,727.5 81.1,728.5 82.5,729.2 83.2,729.6 84.0,728.5 85.4,729.2 86.8,728.5 87.5,728.4 88.2,727.0 89.6,726.3 91.0,726.8 92.1,727.8 92.8,726.5 93.5,726.4 94.0,725.9 94.4,724.1 94.9,723.6 95.6,722.7 96.4,721.7 97.1,720.8 97.8,719.9 98.5,719.0 99.2,717.9 99.9,717.1 100.6,716.4 101.3,715.8 102.3,714.9 103.4,714.4 104.5,713.6 105.5,713.7 106.6,712.8 107.7,713.0 108.4,711.5 109.1,711.6 109.8,710.8 110.5,709.5 111.2,709.4 111.9,708.0 113.3,707.3 114.0,708.7 114.7,708.5 115.4,708.3 116.1,707.3 117.5,706.6 118.6,706.6 119.7,705.9 120.4,707.0 121.1,707.3 121.4,708.8 121.8,709.0 122.2,710.5 122.5,711.6 122.7,712.7 122.9,713.3 123.0,715.8 123.2,716.5 123.4,717.8 123.6,718.6 123.7,719.8 123.9,720.0 124.0,722.4 124.2,722.0 124.3,724.4 124.5,724.3 124.6,725.7 125.3,726.7 126.0,727.8 126.5,729.1 127.0,729.2" fill="none" stroke="#000" stroke-width="1.45" stroke-linejoin="round" stroke-linecap="round"/>
<polyline points="139.4,739.0 140.4,738.7 141.5,737.6 142.2,737.3 142.9,735.7 143.6,735.5 144.3,735.3 145.0,734.5 145.7,733.3 146.8,733.0 147.8,731.9 148.9,731.8 150.0,731.2 151.1,731.1 152.1,729.8 153.1,729.5 154.2,728.4 154.9,728.3 155.6,727.0 156.3,726.2 157.0,725.6 157.7,723.9 158.4,723.5 159.1,723.4 159.8,722.4 160.5,721.3 161.2,721.2 162.0,720.3 162.7,719.2 163.4,719.2 164.1,718.1 164.8,717.1 165.9,715.8 166.9,715.7 167.6,715.3 168.3,714.2 169.0,713.6 170.1,713.3 171.1,712.2 172.2,711.3 173.3,711.5 174.4,710.8 175.4,710.0 176.4,709.3 177.5,709.3 178.6,708.4 179.6,708.6 180.6,708.4 181.7,707.9 182.6,708.1 183.5,707.3 184.6,706.7 185.6,707.1 186.6,706.8 187.7,706.6 188.8,707.0 189.8,707.3 190.9,707.6 191.9,707.6 192.6,708.8 193.4,708.3 194.1,709.5 194.8,710.1 195.5,710.4 196.2,711.6 196.9,712.9 197.6,713.8 198.3,714.4 199.0,715.3 199.7,715.3 200.4,716.5 201.1,717.1 201.8,718.0 202.5,718.6 203.2,719.1 204.0,720.0 204.7,720.8 205.4,721.0 206.1,722.4 206.8,722.9 207.9,723.6 208.9,724.3 209.9,725.1 211.0,725.0 212.1,725.3 213.1,725.7" fill="none" stroke="#000" stroke-width="1.2" stroke-linejoin="round" stroke-linecap="round"/>
<polyline points="234.4,721.6 235.7,721.3 236.9,722.4 238.1,722.2 239.3,723.2 240.5,723.5 241.7,722.4 242.9,721.6 244.1,721.6 245.3,720.5 246.5,720.8 247.7,720.2 248.9,720.8 249.7,720.3 250.5,719.6 251.3,719.2 252.1,718.7 253.0,717.3 253.8,716.8 255.0,715.6 256.2,715.6 257.4,715.4 258.6,714.3 259.4,713.2 260.2,713.3 261.0,712.7 261.8,712.6 262.6,711.2 263.4,711.1 264.6,710.0 265.8,709.8 267.1,709.1 268.3,708.7 269.5,707.7 270.7,707.9 271.9,707.9 273.1,707.6 274.3,707.5 275.5,707.1 276.7,708.0 277.9,707.9 279.1,706.8 280.3,707.1 281.1,707.7 282.0,707.5 282.8,708.7 284.1,709.2 285.5,708.4 286.8,708.7 288.1,708.7 289.4,708.8 290.6,709.3 291.9,709.5 293.2,709.1 294.4,709.4 295.7,709.6 297.0,709.6 298.3,710.1 299.6,710.0 300.8,710.4 301.1,711.0 301.5,713.2 301.8,713.4 302.2,713.7 302.5,715.5 303.3,716.3 304.2,715.9 305.0,716.9 306.3,717.4 307.6,717.2 308.9,717.7 310.1,717.6 311.4,717.5 312.7,718.1 313.9,718.8 315.2,718.6 316.4,718.2 317.7,718.9 318.6,719.1 319.4,719.3 320.3,719.8 321.6,719.8 322.8,720.3 324.1,720.9 325.4,721.0 326.6,721.3 327.9,722.0 328.8,721.9 329.6,722.9 330.5,723.2 331.8,723.5 333.0,724.0 333.9,724.7 334.7,725.7 335.5,726.3 336.4,727.4 337.2,727.5 338.1,728.2 339.0,727.9 339.8,726.5" fill="none" stroke="#000" stroke-width="1.45" stroke-linejoin="round" stroke-linecap="round"/>
<text x="71.62" y="38.46" font-size="8.19" font-weight="bold" fill="#5d4aa8" stroke="#5d4aa8" stroke-width="0.3" textLength="38.84" lengthAdjust="spacingAndGlyphs">DENIS 0205</text>
<text x="78.12" y="89.92" font-size="6.70" font-weight="bold" fill="#3a5cb8" stroke="#3a5cb8" stroke-width="0.3" textLength="25.34" lengthAdjust="spacingAndGlyphs">2M2244</text>
<text x="80.50" y="140.08" font-size="6.31" font-weight="bold" fill="#3d7424" stroke="#3d7424" stroke-width="0.3" textLength="21.04" lengthAdjust="spacingAndGlyphs">W0047</text>
<text x="271.96" y="316.08" font-size="7.54" font-weight="bold" fill="#111111" stroke="#111111" stroke-width="0.3" textLength="21.08" lengthAdjust="spacingAndGlyphs">W1147</text>
<text x="271.96" y="360.92" font-size="7.54" font-weight="bold" fill="#3a6fc0" stroke="#3a6fc0" stroke-width="0.3" textLength="21.54" lengthAdjust="spacingAndGlyphs">W1119</text>
<text x="268.62" y="405.96" font-size="6.70" font-weight="bold" fill="#5e46ac" stroke="#5e46ac" stroke-width="0.3" textLength="28.30" lengthAdjust="spacingAndGlyphs">PSO 318</text>
<text x="267.00" y="465.00" font-size="6.70" font-weight="bold" fill="#3a7424" stroke="#3a7424" stroke-width="0.3" textLength="31.92" lengthAdjust="spacingAndGlyphs">2M1207 b</text>
<text x="267.04" y="599.58" font-size="7.91" font-weight="bold" fill="#111111" stroke="#111111" stroke-width="0.3" textLength="31.00" lengthAdjust="spacingAndGlyphs">HR8799 e</text>
<text x="267.50" y="638.50" font-size="7.11" font-weight="bold" fill="#3d6fc2" stroke="#3d6fc2" stroke-width="0.3" textLength="30.88" lengthAdjust="spacingAndGlyphs">HR8799 d</text>
<text x="267.50" y="688.00" font-size="6.70" font-weight="bold" fill="#5f47aa" stroke="#5f47aa" stroke-width="0.3" textLength="30.88" lengthAdjust="spacingAndGlyphs">HR8799 c</text>
<text x="266.16" y="753.42" font-size="7.99" font-weight="bold" fill="#3a7424" stroke="#3a7424" stroke-width="0.3" textLength="32.72" lengthAdjust="spacingAndGlyphs">HR8799 b</text>
</svg></body></html>
